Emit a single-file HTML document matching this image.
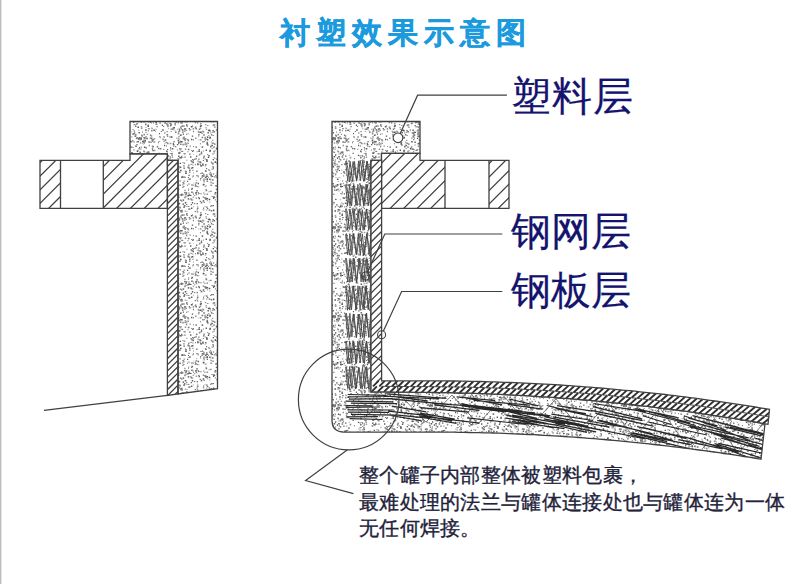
<!DOCTYPE html>
<html><head><meta charset="utf-8"><style>
html,body{margin:0;padding:0;background:#fff;width:800px;height:584px;overflow:hidden}
body{position:relative;font-family:"Liberation Sans",sans-serif}
.edge{position:absolute;left:0;top:0;width:1px;height:584px;background:#bdbdbd;box-shadow:1px 0 0 #e6e6e6}
.title{position:absolute;left:280px;top:14px;-webkit-text-stroke:0.35px #1b9ade;font-size:30px;font-weight:bold;color:#1b9ade;letter-spacing:6px;white-space:nowrap;line-height:38px}
.lab{position:absolute;left:511px;-webkit-text-stroke:0.2px #14146e;font-family:"Liberation Serif",serif;font-size:40px;color:#14146e;white-space:nowrap;line-height:48px}
.note{position:absolute;left:359px;top:462px;-webkit-text-stroke:0.35px #22223a;font-size:20px;color:#22223a;line-height:26.5px;letter-spacing:0.3px;white-space:nowrap}
</style></head><body>
<div class="edge"></div>
<svg width="800" height="584" viewBox="0 0 800 584" style="position:absolute;left:0;top:0;filter:blur(0.3px)"><defs><pattern id="stip" patternUnits="userSpaceOnUse" width="97" height="89"><path fill="#5a5a5a" d="M81.1 42.4h1.2v1.2h-1.2zM76.4 38h1.6v1.6h-1.6zM80.7 51h1.4v1.4h-1.4zM6.2 76h1.6v1.6h-1.6zM33.4 5.9h1.2v1.2h-1.2zM28.5 68.4h1.0v1.0h-1.0zM22.9 3.2h1.0v1.0h-1.0zM94.8 46.4h1.4v1.4h-1.4zM76.5 87.9h1.4v1.4h-1.4zM36.5 52.4h1.2v1.2h-1.2zM24.4 40.6h1.4v1.4h-1.4zM25.6 70.1h1.0v1.0h-1.0zM48.5 58.2h1.4v1.4h-1.4zM31.8 60.3h1.0v1.0h-1.0zM40.4 37.4h1.6v1.6h-1.6zM92.2 82.5h1.2v1.2h-1.2zM94.2 10.7h1.2v1.2h-1.2zM56 1.2h1.0v1.0h-1.0zM12.2 86.5h1.6v1.6h-1.6zM34.1 17.6h1.0v1.0h-1.0zM23.2 24.4h1.2v1.2h-1.2zM47.3 50.8h1.6v1.6h-1.6zM73.4 22.1h1.6v1.6h-1.6zM45.9 69.1h1.0v1.0h-1.0zM75.2 4.1h1.0v1.0h-1.0zM48.7 28.1h1.4v1.4h-1.4zM25.7 87.9h1.6v1.6h-1.6zM12.4 0.3h1.6v1.6h-1.6zM94 49.8h1.4v1.4h-1.4zM29 7.9h1.2v1.2h-1.2zM31.5 50.2h1.0v1.0h-1.0zM58.1 83.6h1.6v1.6h-1.6zM93.8 37h1.6v1.6h-1.6zM62.4 79.9h1.2v1.2h-1.2zM69.7 16.6h1.4v1.4h-1.4zM82.8 52h1.4v1.4h-1.4zM29.8 23.9h1.6v1.6h-1.6zM85.5 4.1h1.2v1.2h-1.2zM62.9 69.2h1.0v1.0h-1.0zM8.8 71.1h1.0v1.0h-1.0zM43.9 65.3h1.4v1.4h-1.4zM12.2 28.4h1.4v1.4h-1.4zM64.5 10h1.4v1.4h-1.4zM28.7 60.2h1.4v1.4h-1.4zM70.6 66.1h1.2v1.2h-1.2zM36 81.9h1.6v1.6h-1.6zM9.7 24.1h1.0v1.0h-1.0zM57.2 60.7h1.0v1.0h-1.0zM12.5 54.1h1.6v1.6h-1.6zM52.8 15.2h1.2v1.2h-1.2zM84.3 32.9h1.4v1.4h-1.4zM47 53.5h1.0v1.0h-1.0zM74.7 58.9h1.6v1.6h-1.6zM20.6 72.3h1.6v1.6h-1.6zM54.9 85.4h1.2v1.2h-1.2zM45.3 7.9h1.0v1.0h-1.0zM84.4 61.8h1.2v1.2h-1.2zM7.8 88.5h1.2v1.2h-1.2zM30.6 70h1.6v1.6h-1.6zM45.9 6.1h1.6v1.6h-1.6zM43.4 32.2h1.6v1.6h-1.6zM13.9 40.9h1.2v1.2h-1.2zM16.3 43.6h1.0v1.0h-1.0zM47.8 80.9h1.2v1.2h-1.2zM76.6 85.6h1.6v1.6h-1.6zM42.2 8h1.0v1.0h-1.0zM3.6 4.8h1.4v1.4h-1.4zM29.6 54h1.6v1.6h-1.6zM91.9 16.4h1.6v1.6h-1.6zM49.2 48.7h1.6v1.6h-1.6zM13.9 87.7h1.0v1.0h-1.0zM81 52.9h1.6v1.6h-1.6zM76.1 6h1.2v1.2h-1.2zM34 88.6h1.4v1.4h-1.4zM89.3 26h1.0v1.0h-1.0zM48.8 5.5h1.6v1.6h-1.6zM88.1 39.5h1.2v1.2h-1.2zM95 78h1.4v1.4h-1.4zM72.5 82.8h1.0v1.0h-1.0zM12.8 47.2h1.0v1.0h-1.0zM50.3 15.2h1.2v1.2h-1.2zM82.6 73.7h1.4v1.4h-1.4zM12.1 69.9h1.4v1.4h-1.4zM47.2 67h1.6v1.6h-1.6zM30.8 34.9h1.4v1.4h-1.4zM26 48.6h1.0v1.0h-1.0zM22.9 85.2h1.2v1.2h-1.2zM38.6 0.8h1.6v1.6h-1.6zM17.5 55.8h1.4v1.4h-1.4zM62.9 11.6h1.2v1.2h-1.2zM75.5 38.6h1.2v1.2h-1.2zM12.3 31.4h1.0v1.0h-1.0zM23.9 31.5h1.6v1.6h-1.6zM14.5 40.6h1.6v1.6h-1.6zM94.9 36.4h1.2v1.2h-1.2zM96.2 61h1.4v1.4h-1.4zM45 51.7h1.4v1.4h-1.4zM51.3 39.3h1.0v1.0h-1.0zM40.5 48.9h1.4v1.4h-1.4zM22.9 34h1.2v1.2h-1.2zM35.6 19.1h1.6v1.6h-1.6zM41.8 77.2h1.4v1.4h-1.4zM6.2 0h1.0v1.0h-1.0zM31.1 25.2h1.0v1.0h-1.0zM32.9 52h1.6v1.6h-1.6zM80.7 16.3h1.4v1.4h-1.4zM9.4 87.1h1.0v1.0h-1.0zM42.8 67.1h1.4v1.4h-1.4zM40.6 51.9h1.4v1.4h-1.4zM18.8 77.6h1.2v1.2h-1.2zM38.5 18.9h1.2v1.2h-1.2zM31.7 22h1.0v1.0h-1.0zM10.8 19.6h1.6v1.6h-1.6zM54.8 21.8h1.2v1.2h-1.2zM78.6 32.5h1.2v1.2h-1.2zM17.2 26.9h1.4v1.4h-1.4zM39.4 55.1h1.2v1.2h-1.2zM81.1 66.6h1.4v1.4h-1.4zM47.1 48.2h1.6v1.6h-1.6zM88.1 49.2h1.4v1.4h-1.4zM70.2 54h1.2v1.2h-1.2zM26.6 42.7h1.4v1.4h-1.4zM33.3 9.5h1.2v1.2h-1.2zM28.6 24.2h1.6v1.6h-1.6zM4.5 15.1h1.0v1.0h-1.0zM54 66.4h1.4v1.4h-1.4zM13.3 55.6h1.2v1.2h-1.2zM66.2 37h1.0v1.0h-1.0zM32.6 64.6h1.4v1.4h-1.4zM20.8 14h1.6v1.6h-1.6zM64.6 21.7h1.0v1.0h-1.0zM39.4 52.4h1.2v1.2h-1.2zM50.4 27.5h1.2v1.2h-1.2zM35.5 88.9h1.0v1.0h-1.0zM89.7 36.9h1.0v1.0h-1.0zM45.9 0.4h1.6v1.6h-1.6zM60.7 7.9h1.0v1.0h-1.0zM93.5 17h1.0v1.0h-1.0zM82.9 45.5h1.6v1.6h-1.6zM23.2 52h1.6v1.6h-1.6zM38 46.8h1.2v1.2h-1.2zM19.4 35.2h1.2v1.2h-1.2zM18.9 79.3h1.0v1.0h-1.0zM38.4 45.6h1.0v1.0h-1.0zM83 80.7h1.6v1.6h-1.6zM19.3 18.4h1.6v1.6h-1.6zM82.9 77.6h1.4v1.4h-1.4zM71.7 8.2h1.4v1.4h-1.4zM80.8 18.5h1.6v1.6h-1.6zM49.2 26.5h1.2v1.2h-1.2zM33.4 25.9h1.4v1.4h-1.4zM89.5 27.7h1.0v1.0h-1.0zM58.3 19.9h1.0v1.0h-1.0zM48.1 40.2h1.6v1.6h-1.6zM42.1 58h1.0v1.0h-1.0zM86.4 8.1h1.0v1.0h-1.0zM80.5 25h1.4v1.4h-1.4zM77.5 4.4h1.6v1.6h-1.6zM50.4 36.5h1.6v1.6h-1.6zM87.2 39h1.6v1.6h-1.6zM29.4 40.5h1.6v1.6h-1.6zM18.6 69.9h1.4v1.4h-1.4zM12.9 50h1.4v1.4h-1.4zM18.6 46h1.0v1.0h-1.0zM85.3 6.6h1.0v1.0h-1.0zM3.7 14.1h1.0v1.0h-1.0zM68.9 56.5h1.0v1.0h-1.0zM72.9 20.4h1.4v1.4h-1.4zM68.1 5.2h1.6v1.6h-1.6zM40.7 32.5h1.0v1.0h-1.0zM4.3 61.4h1.6v1.6h-1.6zM67.3 25.6h1.2v1.2h-1.2zM84.6 87.2h1.6v1.6h-1.6zM73.6 24.8h1.2v1.2h-1.2zM83.2 68h1.6v1.6h-1.6zM18.8 31.6h1.6v1.6h-1.6zM74.8 10.3h1.0v1.0h-1.0zM65.9 81.2h1.6v1.6h-1.6zM96.2 86.5h1.0v1.0h-1.0zM19 20h1.0v1.0h-1.0zM34.4 47.5h1.0v1.0h-1.0zM38.3 44.8h1.0v1.0h-1.0zM79.5 18.4h1.6v1.6h-1.6zM70 59.9h1.2v1.2h-1.2zM43.1 7.8h1.4v1.4h-1.4zM85.8 44.5h1.2v1.2h-1.2zM10.7 69.6h1.0v1.0h-1.0zM8.7 22.2h1.6v1.6h-1.6zM11.7 86.4h1.2v1.2h-1.2zM64.1 78.5h1.4v1.4h-1.4zM12.2 71.2h1.6v1.6h-1.6zM40.6 66.3h1.0v1.0h-1.0zM90 2.7h1.2v1.2h-1.2zM88.7 40.9h1.0v1.0h-1.0zM77.7 32h1.0v1.0h-1.0zM91.3 28.1h1.0v1.0h-1.0zM49.4 8h1.4v1.4h-1.4zM78.8 12.8h1.0v1.0h-1.0zM79.9 54.9h1.4v1.4h-1.4zM81.3 63.3h1.6v1.6h-1.6zM84.1 52h1.6v1.6h-1.6zM78 76.7h1.6v1.6h-1.6zM81.8 24.8h1.4v1.4h-1.4zM56.4 6.2h1.6v1.6h-1.6zM73.5 8.5h1.0v1.0h-1.0zM43.3 49.1h1.6v1.6h-1.6zM8.2 74.5h1.4v1.4h-1.4zM9.6 5.9h1.0v1.0h-1.0zM95.9 70.5h1.2v1.2h-1.2zM64.7 15.4h1.0v1.0h-1.0zM69 61.6h1.4v1.4h-1.4zM5.9 54.3h1.0v1.0h-1.0zM20.3 35.5h1.0v1.0h-1.0zM58.4 75.8h1.6v1.6h-1.6zM63.8 22.7h1.4v1.4h-1.4zM21.5 7h1.2v1.2h-1.2zM39.7 61.3h1.6v1.6h-1.6zM81.8 41.2h1.4v1.4h-1.4zM93 67.3h1.4v1.4h-1.4zM57.6 2.6h1.4v1.4h-1.4zM88.1 83.7h1.4v1.4h-1.4zM85.1 42.4h1.4v1.4h-1.4zM24.8 73.5h1.0v1.0h-1.0zM51.4 52.3h1.4v1.4h-1.4zM56.3 40.4h1.6v1.6h-1.6zM58.4 28.5h1.4v1.4h-1.4zM61.9 44.1h1.2v1.2h-1.2zM48.8 70.2h1.2v1.2h-1.2zM36.7 41.6h1.2v1.2h-1.2zM47.2 79.3h1.0v1.0h-1.0zM72.2 79.7h1.6v1.6h-1.6zM80.4 84.1h1.0v1.0h-1.0zM26.4 52.5h1.4v1.4h-1.4zM24.2 64.5h1.6v1.6h-1.6zM80 7.6h1.4v1.4h-1.4zM58.2 32.4h1.6v1.6h-1.6zM72.2 72.2h1.6v1.6h-1.6zM73.3 34.3h1.2v1.2h-1.2zM36.1 33h1.0v1.0h-1.0zM33.2 9.6h1.6v1.6h-1.6zM41.1 86.6h1.6v1.6h-1.6zM67.8 81.1h1.0v1.0h-1.0zM42.7 48.6h1.0v1.0h-1.0zM80.2 84.9h1.0v1.0h-1.0zM50.9 63.2h1.2v1.2h-1.2zM25.6 44.7h1.0v1.0h-1.0zM58.9 34.6h1.4v1.4h-1.4zM68.6 73.6h1.0v1.0h-1.0zM32.4 51.2h1.0v1.0h-1.0zM27.7 83h1.4v1.4h-1.4zM26.2 67.2h1.2v1.2h-1.2zM15.4 47.8h1.6v1.6h-1.6zM42.5 24.4h1.2v1.2h-1.2zM35.8 11.4h1.4v1.4h-1.4zM13.5 43h1.4v1.4h-1.4zM8.7 5.8h1.6v1.6h-1.6zM93.2 40.2h1.0v1.0h-1.0zM64.8 35.5h1.0v1.0h-1.0zM22.8 88.1h1.0v1.0h-1.0zM67.4 76.3h1.2v1.2h-1.2zM92.1 82.4h1.2v1.2h-1.2zM63.7 31.3h1.4v1.4h-1.4zM24.9 81.5h1.6v1.6h-1.6zM10.9 87.8h1.2v1.2h-1.2zM2.7 25h1.2v1.2h-1.2zM74.5 76.6h1.0v1.0h-1.0zM16.6 85.8h1.4v1.4h-1.4zM13.8 67.7h1.4v1.4h-1.4zM71 9.6h1.2v1.2h-1.2zM93.9 78.6h1.2v1.2h-1.2zM9.3 14.6h1.0v1.0h-1.0zM31 8.7h1.2v1.2h-1.2zM14.7 20.7h1.6v1.6h-1.6zM67.4 33.3h1.4v1.4h-1.4zM23.6 17.4h1.0v1.0h-1.0zM76.6 75.1h1.2v1.2h-1.2zM24.9 1h1.0v1.0h-1.0zM29.9 37.4h1.4v1.4h-1.4zM89 35.2h1.6v1.6h-1.6zM61.8 87.5h1.0v1.0h-1.0zM85.9 48.3h1.6v1.6h-1.6zM35.8 44.2h1.6v1.6h-1.6zM84.2 66.7h1.2v1.2h-1.2zM11.6 60.6h1.4v1.4h-1.4zM27.5 60.7h1.2v1.2h-1.2zM64.6 29.5h1.0v1.0h-1.0zM19.6 18.7h1.6v1.6h-1.6zM95.2 21.6h1.0v1.0h-1.0zM5.6 72.5h1.4v1.4h-1.4zM39.7 10.4h1.2v1.2h-1.2zM70.6 35.4h1.2v1.2h-1.2zM80.5 49.3h1.0v1.0h-1.0zM11.2 81.6h1.4v1.4h-1.4zM6.2 50.3h1.2v1.2h-1.2zM40.9 83h1.0v1.0h-1.0zM49.1 70.3h1.2v1.2h-1.2zM71.5 76.6h1.4v1.4h-1.4zM45.2 82.2h1.4v1.4h-1.4zM85.5 73.2h1.0v1.0h-1.0zM83.5 15.9h1.4v1.4h-1.4zM29.3 2.2h1.0v1.0h-1.0zM82.3 68.1h1.4v1.4h-1.4zM96.8 4.2h1.6v1.6h-1.6zM41.7 48.1h1.0v1.0h-1.0zM84.2 87.6h1.4v1.4h-1.4zM65.2 26h1.2v1.2h-1.2zM23.8 15.8h1.0v1.0h-1.0zM1.1 14.2h1.6v1.6h-1.6zM53.8 24.5h1.6v1.6h-1.6zM46.9 57.6h1.4v1.4h-1.4zM21.8 58.8h1.6v1.6h-1.6zM51.4 39h1.2v1.2h-1.2zM51.6 19.2h1.6v1.6h-1.6zM87.2 14h1.2v1.2h-1.2zM72.7 16.3h1.0v1.0h-1.0zM30.9 33.4h1.4v1.4h-1.4zM37.6 7.6h1.4v1.4h-1.4zM46.6 31h1.4v1.4h-1.4zM12.5 20h1.6v1.6h-1.6zM44.1 20.7h1.4v1.4h-1.4zM27.9 15.6h1.0v1.0h-1.0zM44.1 70.6h1.0v1.0h-1.0zM75.7 7.8h1.4v1.4h-1.4zM70 35.7h1.0v1.0h-1.0zM14.6 31.6h1.0v1.0h-1.0zM60.3 10.7h1.4v1.4h-1.4zM67 56h1.2v1.2h-1.2zM41.5 43h1.4v1.4h-1.4zM72.4 9.4h1.4v1.4h-1.4zM63 8.2h1.0v1.0h-1.0zM28.9 48.9h1.2v1.2h-1.2zM94 29.6h1.4v1.4h-1.4zM14.3 66h1.4v1.4h-1.4zM93.7 26.1h1.2v1.2h-1.2zM3.1 74.7h1.6v1.6h-1.6zM90.1 6.8h1.0v1.0h-1.0zM13.1 29.9h1.2v1.2h-1.2zM53.1 32.9h1.2v1.2h-1.2zM51.9 64.8h1.0v1.0h-1.0zM26.2 76.9h1.4v1.4h-1.4zM61.7 18.8h1.0v1.0h-1.0zM95.7 18.7h1.0v1.0h-1.0zM4.8 20h1.2v1.2h-1.2zM59.7 84.7h1.6v1.6h-1.6zM75.8 54.9h1.6v1.6h-1.6zM41.4 76.8h1.4v1.4h-1.4zM25.8 70.9h1.0v1.0h-1.0zM84.4 36.4h1.6v1.6h-1.6zM6.5 35.9h1.4v1.4h-1.4zM15.4 60.7h1.6v1.6h-1.6zM64.9 35.7h1.2v1.2h-1.2zM55.1 10.4h1.2v1.2h-1.2zM59.1 5.5h1.2v1.2h-1.2zM81.4 47.2h1.2v1.2h-1.2zM84.3 31.7h1.2v1.2h-1.2zM44.6 11.4h1.6v1.6h-1.6zM67.2 43.4h1.0v1.0h-1.0zM65.2 40.7h1.0v1.0h-1.0zM73 67.4h1.0v1.0h-1.0zM88.3 82h1.4v1.4h-1.4zM76.2 31h1.0v1.0h-1.0zM49 7.4h1.6v1.6h-1.6zM96.3 49.9h1.6v1.6h-1.6zM31 20.5h1.4v1.4h-1.4zM91.7 39h1.2v1.2h-1.2zM31.8 25.7h1.2v1.2h-1.2zM26.6 36h1.2v1.2h-1.2zM91.3 30.5h1.2v1.2h-1.2zM12.2 49.5h1.2v1.2h-1.2zM83.2 54.7h1.2v1.2h-1.2zM0.9 75.2h1.0v1.0h-1.0zM80 82.2h1.4v1.4h-1.4zM60.4 19.6h1.0v1.0h-1.0zM43.2 73.6h1.4v1.4h-1.4zM55.4 60.9h1.4v1.4h-1.4zM89.1 44.7h1.0v1.0h-1.0zM75.7 15.6h1.0v1.0h-1.0zM53.2 74.5h1.4v1.4h-1.4zM90.9 88.1h1.0v1.0h-1.0zM63.8 42.1h1.0v1.0h-1.0zM34.2 63h1.6v1.6h-1.6zM29.4 43.2h1.6v1.6h-1.6zM90.3 17h1.6v1.6h-1.6zM58.1 21h1.4v1.4h-1.4zM78.6 82.1h1.2v1.2h-1.2zM86.5 77.5h1.0v1.0h-1.0zM37.2 43.2h1.0v1.0h-1.0zM12.9 47.9h1.2v1.2h-1.2zM91.4 5.4h1.2v1.2h-1.2zM82.5 2.3h1.2v1.2h-1.2zM9.1 84.5h1.0v1.0h-1.0zM6.9 62.6h1.2v1.2h-1.2zM36.3 28.1h1.2v1.2h-1.2zM85.6 25.6h1.4v1.4h-1.4zM27.9 32.6h1.4v1.4h-1.4zM24.8 5.9h1.4v1.4h-1.4zM81.4 31.2h1.4v1.4h-1.4zM84.9 40.2h1.4v1.4h-1.4zM87.8 23.9h1.6v1.6h-1.6zM91.4 85.8h1.2v1.2h-1.2zM29.5 21.5h1.6v1.6h-1.6zM23.5 64.5h1.4v1.4h-1.4zM4.2 46.4h1.0v1.0h-1.0zM62.5 33.5h1.2v1.2h-1.2zM77.6 2.1h1.0v1.0h-1.0zM9.5 2.3h1.2v1.2h-1.2zM87.1 88h1.4v1.4h-1.4zM94.5 9.7h1.4v1.4h-1.4zM88.6 14.5h1.4v1.4h-1.4zM24.6 43.7h1.6v1.6h-1.6zM43.2 9.1h1.2v1.2h-1.2zM25.1 50h1.2v1.2h-1.2zM83.3 32h1.4v1.4h-1.4zM54.7 74h1.4v1.4h-1.4zM38.6 56.7h1.2v1.2h-1.2zM27.4 77h1.0v1.0h-1.0zM37.8 74.6h1.4v1.4h-1.4zM5.8 36.5h1.6v1.6h-1.6zM94.8 24.1h1.4v1.4h-1.4zM54.9 14.5h1.0v1.0h-1.0zM5.5 42.4h1.6v1.6h-1.6zM72.9 58.3h1.2v1.2h-1.2zM50.9 7.9h1.2v1.2h-1.2zM15.6 41.2h1.2v1.2h-1.2zM95.7 39.2h1.2v1.2h-1.2zM61 53.3h1.0v1.0h-1.0zM23.2 68.5h1.6v1.6h-1.6zM22.4 22.9h1.4v1.4h-1.4zM42 49h1.4v1.4h-1.4zM66.8 65.8h1.2v1.2h-1.2zM35.2 65.2h1.4v1.4h-1.4zM17.9 86.8h1.2v1.2h-1.2zM36.9 23.7h1.0v1.0h-1.0zM59.3 13.4h1.2v1.2h-1.2z"/><path fill="#767676" d="M46 51.7h1.0v1.0h-1.0zM4.2 69.4h1.4v1.4h-1.4zM85.3 8.7h1.2v1.2h-1.2zM34 52.1h1.2v1.2h-1.2zM10.5 47.7h1.2v1.2h-1.2zM28.3 23.4h1.0v1.0h-1.0zM30.4 85.3h1.6v1.6h-1.6zM94.4 72.2h1.4v1.4h-1.4zM61.5 63.7h1.4v1.4h-1.4zM47.5 52.5h1.0v1.0h-1.0zM94.2 60.9h1.2v1.2h-1.2zM58.3 84.5h1.2v1.2h-1.2zM78.5 85.5h1.0v1.0h-1.0zM72 19.4h1.6v1.6h-1.6zM21.8 10.8h1.2v1.2h-1.2zM78.3 74.6h1.2v1.2h-1.2zM89.3 13.9h1.0v1.0h-1.0zM3.4 71.5h1.2v1.2h-1.2zM52.1 4.7h1.0v1.0h-1.0zM34.1 57.6h1.4v1.4h-1.4zM30.6 84.6h1.6v1.6h-1.6zM57.2 71.5h1.2v1.2h-1.2zM12.6 2.5h1.4v1.4h-1.4zM69.5 42.1h1.2v1.2h-1.2zM85.4 15.9h1.0v1.0h-1.0zM67.9 83.9h1.4v1.4h-1.4zM16.7 32.1h1.4v1.4h-1.4zM58.1 41.7h1.0v1.0h-1.0zM82.8 21.5h1.2v1.2h-1.2zM13.3 55.3h1.0v1.0h-1.0zM16.5 4h1.2v1.2h-1.2zM25.6 81.3h1.0v1.0h-1.0zM2.9 29.5h1.6v1.6h-1.6zM7.6 57.3h1.6v1.6h-1.6zM51.2 62.4h1.4v1.4h-1.4zM6.7 63.7h1.6v1.6h-1.6zM74.6 31.5h1.4v1.4h-1.4zM43.5 72h1.0v1.0h-1.0zM48.3 88.6h1.2v1.2h-1.2zM81.7 39.6h1.6v1.6h-1.6zM34.9 20.8h1.0v1.0h-1.0zM52.3 82.8h1.4v1.4h-1.4zM83.6 38.9h1.2v1.2h-1.2zM82 62.8h1.6v1.6h-1.6zM63 27.1h1.6v1.6h-1.6zM73.4 35.7h1.2v1.2h-1.2zM87.2 64.1h1.4v1.4h-1.4zM94.1 71.6h1.4v1.4h-1.4zM69.3 21.3h1.0v1.0h-1.0zM9.1 42.2h1.2v1.2h-1.2zM5 64.8h1.4v1.4h-1.4zM87.3 67.4h1.4v1.4h-1.4zM89 83.7h1.0v1.0h-1.0zM34.8 16.4h1.6v1.6h-1.6zM22.3 69.4h1.6v1.6h-1.6zM26.1 15.1h1.6v1.6h-1.6zM4.1 15.3h1.0v1.0h-1.0zM8.9 61.6h1.0v1.0h-1.0zM84.6 40h1.4v1.4h-1.4zM0.2 17.3h1.0v1.0h-1.0zM75.8 53.8h1.2v1.2h-1.2zM2.3 86h1.2v1.2h-1.2zM59.7 57.1h1.4v1.4h-1.4zM58.5 39.7h1.0v1.0h-1.0zM62.3 30.4h1.2v1.2h-1.2zM73.1 82.2h1.4v1.4h-1.4zM41.8 7.5h1.2v1.2h-1.2zM59.4 82.9h1.6v1.6h-1.6zM92 80.4h1.6v1.6h-1.6zM86.6 2.5h1.2v1.2h-1.2zM18.9 18.5h1.6v1.6h-1.6zM75.9 12.7h1.6v1.6h-1.6zM47.3 72.1h1.4v1.4h-1.4zM96.9 19.8h1.4v1.4h-1.4zM2.9 33.2h1.4v1.4h-1.4zM92.2 0.2h1.6v1.6h-1.6zM95 69.9h1.0v1.0h-1.0zM17.9 1.2h1.6v1.6h-1.6zM81 53.7h1.0v1.0h-1.0zM30.2 22h1.6v1.6h-1.6zM70.1 30.2h1.0v1.0h-1.0zM72.8 30h1.2v1.2h-1.2zM5.9 72.7h1.6v1.6h-1.6zM50.6 67.2h1.6v1.6h-1.6zM66.3 88.3h1.0v1.0h-1.0zM75.1 39.5h1.4v1.4h-1.4zM30.5 46.5h1.6v1.6h-1.6zM30.7 53.2h1.0v1.0h-1.0zM30.2 30.8h1.6v1.6h-1.6zM30.7 24.1h1.0v1.0h-1.0zM12.8 22.3h1.0v1.0h-1.0zM6.7 23.8h1.6v1.6h-1.6zM50.8 13.5h1.2v1.2h-1.2zM27.2 11.7h1.2v1.2h-1.2zM0.7 33h1.2v1.2h-1.2zM39.5 47.9h1.4v1.4h-1.4zM73.4 26.3h1.2v1.2h-1.2zM93.5 74.8h1.2v1.2h-1.2zM55.6 14.1h1.0v1.0h-1.0zM81 25.5h1.4v1.4h-1.4zM96.6 64.9h1.2v1.2h-1.2zM42.2 23.8h1.2v1.2h-1.2zM29.2 45h1.6v1.6h-1.6zM48 28.8h1.0v1.0h-1.0zM35.3 64.2h1.2v1.2h-1.2zM18.4 73.3h1.0v1.0h-1.0zM2.7 31.3h1.0v1.0h-1.0zM61 58.7h1.6v1.6h-1.6zM93.2 20.2h1.4v1.4h-1.4zM50.3 28h1.2v1.2h-1.2zM38.9 34.6h1.2v1.2h-1.2zM7.6 47.7h1.6v1.6h-1.6zM48 34.6h1.6v1.6h-1.6zM31.2 31.1h1.2v1.2h-1.2zM46.3 48h1.6v1.6h-1.6zM86.5 78.7h1.4v1.4h-1.4zM41 49.7h1.4v1.4h-1.4zM46.4 50.5h1.2v1.2h-1.2zM52.1 82.2h1.4v1.4h-1.4zM91.3 10.4h1.0v1.0h-1.0zM21.9 40.7h1.0v1.0h-1.0zM47.6 88.6h1.2v1.2h-1.2zM54.9 51.1h1.6v1.6h-1.6zM11.4 19.4h1.0v1.0h-1.0zM32.7 72.5h1.2v1.2h-1.2zM44.2 88.5h1.6v1.6h-1.6zM17.1 73.6h1.0v1.0h-1.0zM21.8 40.3h1.0v1.0h-1.0zM51.5 25.3h1.2v1.2h-1.2zM4.6 60.1h1.4v1.4h-1.4zM47.7 69.3h1.2v1.2h-1.2zM35.1 44.5h1.0v1.0h-1.0zM64.7 29.6h1.6v1.6h-1.6zM45.1 53.5h1.0v1.0h-1.0zM29.6 65.7h1.4v1.4h-1.4zM25.4 42.6h1.6v1.6h-1.6zM56 33.6h1.0v1.0h-1.0zM40.1 75.2h1.6v1.6h-1.6zM15.3 61.5h1.6v1.6h-1.6zM30.6 39.4h1.0v1.0h-1.0zM53.3 52.6h1.4v1.4h-1.4zM53.6 19.1h1.0v1.0h-1.0zM73 73h1.0v1.0h-1.0zM87.8 81.4h1.0v1.0h-1.0zM41.4 5h1.6v1.6h-1.6zM56.1 73.7h1.2v1.2h-1.2zM55.8 2.2h1.4v1.4h-1.4zM75.6 54.1h1.0v1.0h-1.0zM86.5 49.5h1.0v1.0h-1.0zM42.9 62.9h1.2v1.2h-1.2zM0.1 69.7h1.4v1.4h-1.4zM27 75.4h1.2v1.2h-1.2zM84 15.6h1.4v1.4h-1.4zM7.6 48.1h1.2v1.2h-1.2zM85.1 87.2h1.0v1.0h-1.0zM16 57h1.6v1.6h-1.6zM12 79.1h1.2v1.2h-1.2zM68.4 66.2h1.4v1.4h-1.4zM42.2 62.4h1.4v1.4h-1.4zM50.5 62.2h1.4v1.4h-1.4zM32.6 68.2h1.2v1.2h-1.2zM82.3 6.5h1.6v1.6h-1.6zM96.2 83.4h1.2v1.2h-1.2zM54.8 27.7h1.6v1.6h-1.6zM23.3 18h1.0v1.0h-1.0zM82.6 51.7h1.2v1.2h-1.2zM55.4 49.8h1.4v1.4h-1.4zM90.4 62.2h1.0v1.0h-1.0zM66.6 75.2h1.0v1.0h-1.0zM91.4 16.3h1.4v1.4h-1.4zM22.6 84.6h1.6v1.6h-1.6zM72.9 36h1.4v1.4h-1.4zM73.7 34.9h1.2v1.2h-1.2zM63.3 18.8h1.4v1.4h-1.4zM34.6 66.1h1.2v1.2h-1.2zM38 36.6h1.4v1.4h-1.4zM61.7 52.1h1.0v1.0h-1.0zM94.3 6.3h1.4v1.4h-1.4zM22.9 57.3h1.4v1.4h-1.4zM16.7 55.8h1.0v1.0h-1.0zM20.5 69.1h1.0v1.0h-1.0zM31.4 54h1.4v1.4h-1.4zM68.9 88h1.0v1.0h-1.0zM69.3 34.2h1.4v1.4h-1.4zM72.5 33.7h1.6v1.6h-1.6zM23.9 19.7h1.6v1.6h-1.6zM7.7 86.1h1.6v1.6h-1.6zM68.6 26.4h1.2v1.2h-1.2zM14.9 0.4h1.6v1.6h-1.6zM19.8 63.5h1.0v1.0h-1.0zM91.4 0.7h1.2v1.2h-1.2zM13.2 35.9h1.2v1.2h-1.2zM24 1.7h1.4v1.4h-1.4zM83.6 21.7h1.2v1.2h-1.2zM16.6 84.5h1.4v1.4h-1.4zM54.1 80h1.2v1.2h-1.2zM87 50.2h1.4v1.4h-1.4zM76.5 82.8h1.0v1.0h-1.0zM90.7 20.1h1.6v1.6h-1.6zM17.7 59.1h1.0v1.0h-1.0zM43 11.5h1.2v1.2h-1.2zM30.1 28.6h1.0v1.0h-1.0zM22.6 87.2h1.0v1.0h-1.0zM1.6 39.1h1.4v1.4h-1.4zM26.5 55.5h1.0v1.0h-1.0zM23.3 33.5h1.4v1.4h-1.4zM59 6.7h1.0v1.0h-1.0zM24.4 47.4h1.4v1.4h-1.4zM73.9 47h1.4v1.4h-1.4zM27.1 4.7h1.6v1.6h-1.6zM9.6 52.1h1.2v1.2h-1.2zM50.6 35.5h1.4v1.4h-1.4zM43.7 28.2h1.4v1.4h-1.4zM91 11.7h1.0v1.0h-1.0zM18.3 40.9h1.6v1.6h-1.6zM55.8 57h1.2v1.2h-1.2zM44.5 7.3h1.0v1.0h-1.0zM65.2 40.2h1.6v1.6h-1.6zM8.3 75.5h1.4v1.4h-1.4zM74.7 0.1h1.2v1.2h-1.2zM69 67.9h1.6v1.6h-1.6zM66 49.8h1.0v1.0h-1.0zM8.7 86.1h1.4v1.4h-1.4zM15.1 31.6h1.2v1.2h-1.2zM26 28.7h1.4v1.4h-1.4zM36.4 23h1.6v1.6h-1.6zM11 74.9h1.6v1.6h-1.6zM85.6 21.3h1.6v1.6h-1.6zM89 57.1h1.2v1.2h-1.2zM45.7 77.7h1.0v1.0h-1.0zM96.2 57.1h1.0v1.0h-1.0zM16.9 45.1h1.4v1.4h-1.4zM2 66.6h1.4v1.4h-1.4zM7.6 88.8h1.4v1.4h-1.4zM16.4 6.6h1.4v1.4h-1.4zM43.7 48.3h1.4v1.4h-1.4zM49.7 48.9h1.0v1.0h-1.0zM16.2 12.7h1.4v1.4h-1.4zM7.8 83.6h1.2v1.2h-1.2zM23.7 59.4h1.6v1.6h-1.6zM69.5 44.9h1.6v1.6h-1.6zM56.7 16.5h1.6v1.6h-1.6zM31.9 26.1h1.0v1.0h-1.0zM73.4 83h1.6v1.6h-1.6zM94.1 13.5h1.4v1.4h-1.4zM25.3 60h1.2v1.2h-1.2zM35.5 80.7h1.0v1.0h-1.0zM45.7 76.7h1.4v1.4h-1.4zM73.4 86h1.4v1.4h-1.4zM54.3 50.5h1.0v1.0h-1.0zM95.4 72.6h1.6v1.6h-1.6zM47.2 76.8h1.6v1.6h-1.6zM3.1 74h1.4v1.4h-1.4zM42.3 48.5h1.2v1.2h-1.2zM90.4 77.6h1.6v1.6h-1.6zM70 84.9h1.0v1.0h-1.0zM64.1 21.4h1.0v1.0h-1.0zM74.1 47.6h1.4v1.4h-1.4zM59.9 10.5h1.6v1.6h-1.6zM84 16.7h1.4v1.4h-1.4zM22.9 25.6h1.6v1.6h-1.6zM85.2 61.9h1.0v1.0h-1.0zM45.8 52.2h1.6v1.6h-1.6zM7 76.4h1.2v1.2h-1.2zM25.7 45.5h1.6v1.6h-1.6zM70.4 37h1.2v1.2h-1.2zM55.5 18.8h1.4v1.4h-1.4zM0.7 37.8h1.6v1.6h-1.6zM89.4 70.7h1.0v1.0h-1.0zM35.5 39.9h1.0v1.0h-1.0zM75.7 24.8h1.4v1.4h-1.4zM41.9 7.6h1.2v1.2h-1.2zM24.7 70h1.2v1.2h-1.2zM86.3 28.3h1.6v1.6h-1.6zM78.1 57h1.2v1.2h-1.2zM81.9 28.6h1.6v1.6h-1.6zM8.7 18.4h1.4v1.4h-1.4zM49.1 64.2h1.2v1.2h-1.2zM44.6 46.3h1.4v1.4h-1.4zM35.9 24.2h1.2v1.2h-1.2zM68 86.2h1.2v1.2h-1.2zM27.6 63.9h1.6v1.6h-1.6zM89.7 53.6h1.0v1.0h-1.0zM57.6 17.6h1.2v1.2h-1.2zM91.3 14.6h1.2v1.2h-1.2zM41.4 68.8h1.2v1.2h-1.2zM3.6 86.6h1.2v1.2h-1.2zM11.9 87.7h1.0v1.0h-1.0zM7.6 42.1h1.0v1.0h-1.0zM33.4 18.7h1.4v1.4h-1.4zM20.2 37.4h1.4v1.4h-1.4zM60.4 9.5h1.0v1.0h-1.0zM83 37.9h1.0v1.0h-1.0zM49.4 62.7h1.6v1.6h-1.6zM27.5 37.2h1.2v1.2h-1.2zM47.4 12.6h1.0v1.0h-1.0zM47.3 88.7h1.4v1.4h-1.4zM22.5 82.7h1.0v1.0h-1.0zM48.7 11.2h1.0v1.0h-1.0zM44.7 6.4h1.0v1.0h-1.0zM18.2 74.3h1.4v1.4h-1.4zM31.5 72.4h1.0v1.0h-1.0zM36.6 44h1.0v1.0h-1.0zM38.8 48.7h1.2v1.2h-1.2zM79.9 60.5h1.0v1.0h-1.0zM2.2 81.6h1.4v1.4h-1.4zM54.9 60.1h1.2v1.2h-1.2zM70.5 81.4h1.4v1.4h-1.4zM59.4 36.9h1.4v1.4h-1.4zM0.1 25h1.2v1.2h-1.2zM64.9 87.2h1.6v1.6h-1.6zM11.3 20.5h1.4v1.4h-1.4zM75.6 21h1.2v1.2h-1.2zM53 19.7h1.4v1.4h-1.4zM75 24.8h1.4v1.4h-1.4zM9.6 3.4h1.0v1.0h-1.0zM86.9 26.9h1.6v1.6h-1.6zM24.7 46.2h1.6v1.6h-1.6zM91 53.7h1.0v1.0h-1.0zM6.3 83.9h1.2v1.2h-1.2zM32.9 21.4h1.0v1.0h-1.0zM56.9 23.3h1.2v1.2h-1.2zM19.5 42h1.6v1.6h-1.6zM67.4 72.5h1.0v1.0h-1.0zM1 7.1h1.6v1.6h-1.6zM18.2 77.2h1.0v1.0h-1.0zM55 56.8h1.6v1.6h-1.6zM26 82.6h1.0v1.0h-1.0zM73 60.4h1.0v1.0h-1.0zM45.4 74.8h1.2v1.2h-1.2zM95.3 75.4h1.0v1.0h-1.0zM32 77h1.4v1.4h-1.4zM62.9 76.5h1.0v1.0h-1.0zM76.4 51.9h1.4v1.4h-1.4zM19.7 87.3h1.2v1.2h-1.2zM8.9 1.5h1.0v1.0h-1.0zM86.2 36.3h1.4v1.4h-1.4zM29.3 64.3h1.4v1.4h-1.4zM5.7 22.7h1.2v1.2h-1.2zM90.6 44.3h1.0v1.0h-1.0zM60 2.3h1.0v1.0h-1.0zM45 42.5h1.0v1.0h-1.0zM82.1 82.4h1.6v1.6h-1.6zM37.7 30.2h1.2v1.2h-1.2zM36.8 72.7h1.4v1.4h-1.4zM74.9 79.3h1.4v1.4h-1.4zM78.2 11.5h1.6v1.6h-1.6zM37.4 1.3h1.0v1.0h-1.0zM87.1 41.4h1.4v1.4h-1.4zM80.7 33.3h1.2v1.2h-1.2zM39 1.2h1.6v1.6h-1.6zM52.9 45.5h1.4v1.4h-1.4zM30.7 50.3h1.4v1.4h-1.4zM95 61.7h1.2v1.2h-1.2zM53.8 48.6h1.6v1.6h-1.6zM78.1 42.5h1.4v1.4h-1.4zM45.8 80h1.4v1.4h-1.4zM77.3 26.5h1.0v1.0h-1.0zM29.5 71.3h1.2v1.2h-1.2zM4.1 19h1.4v1.4h-1.4zM52.3 32.4h1.0v1.0h-1.0zM9.2 45.2h1.6v1.6h-1.6zM63.6 8.2h1.0v1.0h-1.0zM12.5 52.7h1.6v1.6h-1.6zM13.2 65h1.0v1.0h-1.0zM38 56.4h1.4v1.4h-1.4zM57.8 14.2h1.2v1.2h-1.2zM63 59.1h1.4v1.4h-1.4zM27.4 25.8h1.2v1.2h-1.2zM57.1 52.2h1.2v1.2h-1.2zM86.9 40.1h1.0v1.0h-1.0zM95.9 41.7h1.6v1.6h-1.6zM2.6 62.3h1.0v1.0h-1.0zM80.8 9.9h1.0v1.0h-1.0zM29.3 47h1.6v1.6h-1.6zM65.2 49.8h1.0v1.0h-1.0zM16.8 72.6h1.0v1.0h-1.0zM50.3 75h1.2v1.2h-1.2zM72.6 10.2h1.2v1.2h-1.2zM39.7 34h1.2v1.2h-1.2zM82.2 59h1.4v1.4h-1.4zM80.3 12.1h1.0v1.0h-1.0zM28 83.8h1.4v1.4h-1.4zM86.5 88.2h1.6v1.6h-1.6zM44 84.4h1.4v1.4h-1.4zM11.6 11.7h1.6v1.6h-1.6zM46.2 61.4h1.4v1.4h-1.4zM30 32.9h1.6v1.6h-1.6zM90.8 59.7h1.6v1.6h-1.6zM38.4 72.5h1.4v1.4h-1.4zM12 71.5h1.6v1.6h-1.6zM18.8 27h1.2v1.2h-1.2zM58.6 22.9h1.0v1.0h-1.0zM93.7 21.2h1.4v1.4h-1.4zM17.5 17.9h1.2v1.2h-1.2zM4.8 39.6h1.4v1.4h-1.4zM51.2 65.9h1.2v1.2h-1.2zM5.6 74.8h1.2v1.2h-1.2zM83.4 33.1h1.4v1.4h-1.4zM14.6 13.2h1.0v1.0h-1.0zM90.2 50.1h1.4v1.4h-1.4zM74.5 65.7h1.2v1.2h-1.2zM69.5 35.3h1.2v1.2h-1.2zM74.1 63.9h1.6v1.6h-1.6zM23.6 86.6h1.4v1.4h-1.4zM2.7 12h1.0v1.0h-1.0zM9 29.6h1.2v1.2h-1.2zM50.2 24.5h1.0v1.0h-1.0zM92 40.4h1.0v1.0h-1.0zM1.7 13.9h1.4v1.4h-1.4zM75.6 0.5h1.4v1.4h-1.4zM43.8 37.2h1.4v1.4h-1.4zM63.2 83.6h1.2v1.2h-1.2zM38.4 65.4h1.4v1.4h-1.4zM36.6 35h1.2v1.2h-1.2zM39.7 87.3h1.2v1.2h-1.2zM43.1 49.4h1.6v1.6h-1.6zM42.3 15.8h1.2v1.2h-1.2z"/><path fill="#929292" d="M23.1 48.4h1.4v1.4h-1.4zM25.2 20.9h1.6v1.6h-1.6zM61.6 77.3h1.6v1.6h-1.6zM1.5 69.2h1.2v1.2h-1.2zM57.7 81.9h1.6v1.6h-1.6zM21 85.9h1.6v1.6h-1.6zM83 37.5h1.6v1.6h-1.6zM66.2 82.7h1.4v1.4h-1.4zM65.1 14.5h1.4v1.4h-1.4zM87.8 50.7h1.2v1.2h-1.2zM58.7 67.8h1.6v1.6h-1.6zM56.9 49h1.4v1.4h-1.4zM44.7 46.3h1.0v1.0h-1.0zM61.5 29.6h1.4v1.4h-1.4zM89 54.2h1.4v1.4h-1.4zM35.3 27.8h1.4v1.4h-1.4zM33 73.7h1.0v1.0h-1.0zM33.5 11.5h1.4v1.4h-1.4zM77 24.1h1.4v1.4h-1.4zM91.5 78.3h1.6v1.6h-1.6zM72.3 74.5h1.4v1.4h-1.4zM33.1 20.2h1.0v1.0h-1.0zM48.8 21.3h1.0v1.0h-1.0zM46.8 2.9h1.0v1.0h-1.0zM55 3.8h1.6v1.6h-1.6zM63.1 48.2h1.0v1.0h-1.0zM86 4.7h1.6v1.6h-1.6zM1.7 19.5h1.4v1.4h-1.4zM45 11h1.6v1.6h-1.6zM10.5 28.3h1.0v1.0h-1.0zM4.3 8.2h1.0v1.0h-1.0zM81.6 10.8h1.0v1.0h-1.0zM46.7 62h1.4v1.4h-1.4zM53.8 8.9h1.0v1.0h-1.0zM96.8 57.5h1.6v1.6h-1.6zM36.4 20.9h1.6v1.6h-1.6zM9.3 66.6h1.6v1.6h-1.6zM14.2 45.9h1.2v1.2h-1.2zM52.2 69.4h1.6v1.6h-1.6zM75.1 12.8h1.6v1.6h-1.6zM96.3 6.4h1.6v1.6h-1.6zM73.2 85.6h1.0v1.0h-1.0zM47.9 31.3h1.4v1.4h-1.4zM10.5 49.8h1.4v1.4h-1.4zM69.9 53.2h1.4v1.4h-1.4zM18.1 42.9h1.2v1.2h-1.2zM4.1 44.9h1.2v1.2h-1.2zM67.7 50.5h1.6v1.6h-1.6zM30.6 80.6h1.4v1.4h-1.4zM48.3 47.1h1.4v1.4h-1.4zM50.8 41h1.2v1.2h-1.2zM83.3 53.5h1.0v1.0h-1.0zM20.3 15.2h1.6v1.6h-1.6zM16.3 2.4h1.0v1.0h-1.0zM39.1 28.3h1.0v1.0h-1.0zM60.4 30.8h1.0v1.0h-1.0zM54.4 2.7h1.4v1.4h-1.4zM96.3 28.2h1.0v1.0h-1.0zM2.9 8.1h1.2v1.2h-1.2zM81.2 76.9h1.6v1.6h-1.6zM23 75.1h1.0v1.0h-1.0zM55.2 9.8h1.0v1.0h-1.0zM20.4 61.2h1.2v1.2h-1.2zM27.9 18.6h1.6v1.6h-1.6zM17.2 7h1.0v1.0h-1.0zM8.3 41.4h1.2v1.2h-1.2zM11.3 0.7h1.4v1.4h-1.4zM16 82.9h1.2v1.2h-1.2zM86.7 87.5h1.6v1.6h-1.6zM3.6 41.7h1.2v1.2h-1.2zM41.8 83.7h1.6v1.6h-1.6zM3.6 88.6h1.2v1.2h-1.2zM24 12.1h1.6v1.6h-1.6zM1.6 4h1.6v1.6h-1.6zM43.9 85.4h1.2v1.2h-1.2zM42.2 6.8h1.0v1.0h-1.0zM22.3 17.8h1.0v1.0h-1.0zM51 66.1h1.0v1.0h-1.0zM81.3 78.4h1.4v1.4h-1.4zM87.8 15.8h1.6v1.6h-1.6zM68.2 27.9h1.0v1.0h-1.0zM33.5 66.6h1.6v1.6h-1.6zM25.8 18h1.0v1.0h-1.0zM57.3 19.4h1.6v1.6h-1.6zM54.7 56.7h1.4v1.4h-1.4zM58.3 87.3h1.4v1.4h-1.4zM17.7 53.6h1.2v1.2h-1.2zM32.4 70.2h1.2v1.2h-1.2zM36.1 58h1.0v1.0h-1.0zM52.3 82h1.6v1.6h-1.6zM46.1 79.2h1.4v1.4h-1.4zM37.7 45.5h1.6v1.6h-1.6zM82.4 28.9h1.6v1.6h-1.6zM86.8 73.6h1.4v1.4h-1.4zM62.9 85.3h1.0v1.0h-1.0zM50.2 80.4h1.2v1.2h-1.2zM80.4 16h1.6v1.6h-1.6zM38.4 30.6h1.6v1.6h-1.6zM87.3 11.8h1.4v1.4h-1.4zM5.8 38.5h1.4v1.4h-1.4zM79.8 83.5h1.0v1.0h-1.0zM24.3 23.4h1.4v1.4h-1.4zM66.3 47.2h1.6v1.6h-1.6zM1.7 15.7h1.6v1.6h-1.6zM69.5 30.2h1.2v1.2h-1.2zM47.8 51.9h1.2v1.2h-1.2zM9.1 67.7h1.4v1.4h-1.4zM67.7 50.1h1.6v1.6h-1.6zM10.6 49.3h1.4v1.4h-1.4zM49 14.9h1.0v1.0h-1.0zM36 13.1h1.4v1.4h-1.4zM18.1 50.8h1.2v1.2h-1.2zM21.6 87.7h1.4v1.4h-1.4zM80.4 12.6h1.0v1.0h-1.0zM87.3 39.3h1.6v1.6h-1.6zM76.7 11.7h1.2v1.2h-1.2zM70.6 33.2h1.0v1.0h-1.0zM41.5 25.7h1.0v1.0h-1.0zM0.7 7.4h1.6v1.6h-1.6zM4.3 18.8h1.0v1.0h-1.0zM43.2 59.4h1.4v1.4h-1.4zM38.4 87.3h1.0v1.0h-1.0zM44 45.4h1.6v1.6h-1.6zM87.1 18.6h1.6v1.6h-1.6zM29.9 5.6h1.6v1.6h-1.6zM48.5 42.7h1.2v1.2h-1.2zM72.2 47.2h1.2v1.2h-1.2zM16 85.6h1.4v1.4h-1.4zM72.5 18.3h1.0v1.0h-1.0zM73.1 64.1h1.0v1.0h-1.0zM37.4 28.4h1.2v1.2h-1.2zM43.9 38.4h1.6v1.6h-1.6zM71.1 66.8h1.4v1.4h-1.4zM85.3 68.1h1.0v1.0h-1.0zM46.4 44.8h1.6v1.6h-1.6zM10.1 19.1h1.4v1.4h-1.4zM40.9 68.8h1.4v1.4h-1.4zM75.5 21.2h1.0v1.0h-1.0zM36.4 32.2h1.4v1.4h-1.4zM1 48.5h1.6v1.6h-1.6zM69.4 16.6h1.0v1.0h-1.0zM72.2 70.8h1.6v1.6h-1.6zM67.7 1.3h1.2v1.2h-1.2zM52 86.3h1.2v1.2h-1.2zM60.1 81.4h1.4v1.4h-1.4zM27.3 20.9h1.2v1.2h-1.2zM36.2 16.4h1.6v1.6h-1.6zM89.4 55.7h1.0v1.0h-1.0zM71.2 39.2h1.0v1.0h-1.0zM62.1 47.1h1.4v1.4h-1.4zM86.3 47.6h1.6v1.6h-1.6zM38.4 14.6h1.4v1.4h-1.4zM65.5 10.6h1.4v1.4h-1.4zM31.5 26.8h1.0v1.0h-1.0zM30.9 26.1h1.6v1.6h-1.6zM56.2 13.3h1.6v1.6h-1.6zM93.4 71h1.6v1.6h-1.6zM71.8 82.7h1.4v1.4h-1.4zM35.3 65.5h1.2v1.2h-1.2zM15.2 23.4h1.2v1.2h-1.2zM25.2 74.8h1.6v1.6h-1.6zM54.4 38.8h1.4v1.4h-1.4zM7.3 87.7h1.4v1.4h-1.4zM70.9 73.2h1.2v1.2h-1.2zM69.9 46.6h1.4v1.4h-1.4zM25.6 21.9h1.0v1.0h-1.0zM10.8 50.8h1.0v1.0h-1.0zM85.1 36.8h1.0v1.0h-1.0zM53 83.5h1.4v1.4h-1.4zM88.5 15.4h1.6v1.6h-1.6zM37.3 46.6h1.2v1.2h-1.2zM54.2 38.5h1.0v1.0h-1.0zM57.2 31h1.2v1.2h-1.2zM10.6 7.9h1.0v1.0h-1.0zM86.1 5.4h1.2v1.2h-1.2zM29.2 60h1.0v1.0h-1.0zM81.2 49.4h1.4v1.4h-1.4zM58.4 10.1h1.2v1.2h-1.2zM25.1 2.4h1.4v1.4h-1.4zM15.1 48.7h1.2v1.2h-1.2zM71.8 28.5h1.4v1.4h-1.4zM8 52h1.6v1.6h-1.6zM59.6 84.1h1.4v1.4h-1.4zM92.5 56.4h1.4v1.4h-1.4zM16.7 86.8h1.4v1.4h-1.4zM68.4 52.7h1.6v1.6h-1.6zM42.5 50h1.6v1.6h-1.6zM36.9 85.4h1.0v1.0h-1.0zM68.9 26.6h1.4v1.4h-1.4zM76.4 6.6h1.2v1.2h-1.2zM4.1 42.6h1.6v1.6h-1.6zM10.2 15.8h1.2v1.2h-1.2zM36.2 60.2h1.4v1.4h-1.4zM88.3 81.7h1.4v1.4h-1.4zM2.4 32.3h1.0v1.0h-1.0zM36.5 1.7h1.6v1.6h-1.6zM91.9 30.3h1.6v1.6h-1.6zM9.1 85.3h1.6v1.6h-1.6zM29.5 41.3h1.4v1.4h-1.4zM88.5 18h1.2v1.2h-1.2zM71.1 70.1h1.0v1.0h-1.0zM95 13.9h1.4v1.4h-1.4zM44.1 80.2h1.4v1.4h-1.4zM29.4 69.3h1.6v1.6h-1.6zM96.8 76.2h1.4v1.4h-1.4zM69.6 62.1h1.4v1.4h-1.4zM46.2 10.4h1.6v1.6h-1.6zM29.5 79.8h1.2v1.2h-1.2zM50.7 32.5h1.2v1.2h-1.2zM55.2 69.5h1.2v1.2h-1.2zM11.5 38h1.2v1.2h-1.2zM8.9 68.3h1.4v1.4h-1.4zM33.7 18.9h1.2v1.2h-1.2zM72.7 53.7h1.6v1.6h-1.6zM45.8 54.6h1.0v1.0h-1.0zM80.1 39.8h1.0v1.0h-1.0zM61.9 2h1.6v1.6h-1.6zM41.3 58.9h1.6v1.6h-1.6zM58.5 24.2h1.6v1.6h-1.6zM61.6 4.7h1.6v1.6h-1.6zM33.9 17.1h1.4v1.4h-1.4zM68.3 0.6h1.0v1.0h-1.0zM80 15.6h1.2v1.2h-1.2zM76.3 56.7h1.2v1.2h-1.2zM87.8 59.5h1.4v1.4h-1.4zM29.7 56.6h1.4v1.4h-1.4zM78.3 11.3h1.4v1.4h-1.4zM18.5 53.4h1.6v1.6h-1.6zM28.4 41.5h1.0v1.0h-1.0zM96.9 6h1.4v1.4h-1.4zM75.7 26.5h1.2v1.2h-1.2zM79.9 79.7h1.6v1.6h-1.6zM3.2 27.8h1.0v1.0h-1.0zM24.8 6.8h1.6v1.6h-1.6zM32.2 55.9h1.6v1.6h-1.6zM72.3 26.9h1.4v1.4h-1.4zM29.4 77.4h1.2v1.2h-1.2zM15 84.2h1.6v1.6h-1.6zM59 85.2h1.0v1.0h-1.0zM19.9 54.3h1.6v1.6h-1.6zM74.6 24.2h1.2v1.2h-1.2zM86.2 87.2h1.6v1.6h-1.6zM72.6 86.3h1.4v1.4h-1.4zM25.1 61.9h1.2v1.2h-1.2zM67.1 54.4h1.0v1.0h-1.0zM61.9 84.5h1.6v1.6h-1.6zM31.7 74.8h1.4v1.4h-1.4zM83.8 32.7h1.6v1.6h-1.6zM38 35.6h1.0v1.0h-1.0zM17.5 79.4h1.4v1.4h-1.4zM51.6 55.8h1.4v1.4h-1.4zM85.5 48.6h1.6v1.6h-1.6zM95.7 86.3h1.2v1.2h-1.2zM36.1 84.5h1.0v1.0h-1.0zM20.8 21.3h1.2v1.2h-1.2zM18.3 64.2h1.4v1.4h-1.4zM27.1 67.7h1.6v1.6h-1.6zM68.9 26.6h1.0v1.0h-1.0zM74.6 15.7h1.2v1.2h-1.2zM18.6 35.6h1.6v1.6h-1.6zM19.2 61.8h1.4v1.4h-1.4zM53 28.2h1.2v1.2h-1.2zM43.6 57.4h1.4v1.4h-1.4zM60.8 30.1h1.2v1.2h-1.2zM33.2 66.5h1.4v1.4h-1.4zM12.1 84.9h1.4v1.4h-1.4zM54.8 59h1.4v1.4h-1.4zM73.5 39.4h1.6v1.6h-1.6zM52.5 6.7h1.6v1.6h-1.6zM6.3 14.9h1.4v1.4h-1.4zM72.4 85.2h1.2v1.2h-1.2zM11.5 10.8h1.2v1.2h-1.2zM32.8 57.4h1.6v1.6h-1.6zM87.4 54.6h1.6v1.6h-1.6zM10.5 48.8h1.0v1.0h-1.0zM21.2 7.2h1.6v1.6h-1.6zM63.3 12.4h1.4v1.4h-1.4zM2.2 12.1h1.6v1.6h-1.6zM56.2 52.7h1.0v1.0h-1.0zM41.7 70.5h1.6v1.6h-1.6zM70.5 20.8h1.2v1.2h-1.2zM54.8 18h1.2v1.2h-1.2zM4.4 50.4h1.0v1.0h-1.0zM87.7 53h1.2v1.2h-1.2zM66.1 59.7h1.2v1.2h-1.2zM39 82h1.6v1.6h-1.6zM57.2 71.2h1.6v1.6h-1.6zM18.8 84.3h1.4v1.4h-1.4zM0.7 5.6h1.4v1.4h-1.4zM68.8 34h1.0v1.0h-1.0zM82.8 60.3h1.2v1.2h-1.2zM10.8 80.9h1.2v1.2h-1.2zM22.8 15.4h1.4v1.4h-1.4zM25.1 45.7h1.6v1.6h-1.6zM7 42.8h1.0v1.0h-1.0zM40.9 74.8h1.4v1.4h-1.4zM48.5 38.1h1.0v1.0h-1.0zM10.9 34.9h1.4v1.4h-1.4zM1.1 37.5h1.2v1.2h-1.2zM86.2 25.5h1.0v1.0h-1.0zM95.2 87.5h1.0v1.0h-1.0zM57.5 61.3h1.0v1.0h-1.0zM43.3 75.2h1.6v1.6h-1.6zM85.3 41.1h1.2v1.2h-1.2zM54 40.9h1.6v1.6h-1.6zM8.8 31.2h1.4v1.4h-1.4zM23.5 25.4h1.6v1.6h-1.6zM14.1 80.1h1.4v1.4h-1.4zM1.4 57.3h1.6v1.6h-1.6zM30.1 5.7h1.6v1.6h-1.6zM14.5 47.6h1.4v1.4h-1.4zM87.7 32.6h1.2v1.2h-1.2zM41.1 73.6h1.0v1.0h-1.0zM59.7 3.6h1.2v1.2h-1.2zM70.4 28.6h1.0v1.0h-1.0zM15.1 62h1.0v1.0h-1.0zM89.4 32.9h1.0v1.0h-1.0zM75.2 18.6h1.2v1.2h-1.2zM74.4 62.2h1.0v1.0h-1.0zM12.5 15.4h1.6v1.6h-1.6zM11.8 39.7h1.4v1.4h-1.4zM73.9 13.3h1.0v1.0h-1.0zM37.3 72h1.6v1.6h-1.6zM52.6 48.5h1.6v1.6h-1.6zM32.3 38.2h1.0v1.0h-1.0zM27 2.7h1.6v1.6h-1.6zM80.9 69.5h1.4v1.4h-1.4zM19.2 57.3h1.6v1.6h-1.6zM50.3 5.2h1.0v1.0h-1.0zM26.8 33h1.6v1.6h-1.6zM80.7 43.8h1.6v1.6h-1.6zM73.5 81.9h1.4v1.4h-1.4zM26.6 87.2h1.2v1.2h-1.2zM67.5 43.4h1.0v1.0h-1.0zM77.4 34.8h1.6v1.6h-1.6zM60.3 13.1h1.2v1.2h-1.2zM83.5 59.2h1.4v1.4h-1.4zM79.4 20h1.0v1.0h-1.0zM28.8 32.6h1.2v1.2h-1.2zM70.3 36.2h1.2v1.2h-1.2zM73.8 20.6h1.2v1.2h-1.2zM29.6 34.4h1.6v1.6h-1.6zM19.5 68h1.0v1.0h-1.0zM49.8 84.1h1.0v1.0h-1.0zM85.3 54.8h1.6v1.6h-1.6zM46.7 27.9h1.2v1.2h-1.2zM5.9 1.2h1.2v1.2h-1.2zM76.1 3.1h1.4v1.4h-1.4zM97 21.3h1.0v1.0h-1.0zM36.7 27.7h1.2v1.2h-1.2zM45.8 68h1.2v1.2h-1.2zM51 2.3h1.2v1.2h-1.2zM76.8 40.6h1.0v1.0h-1.0zM16 27.7h1.4v1.4h-1.4zM54.7 80.2h1.4v1.4h-1.4zM86.2 75.9h1.4v1.4h-1.4zM95.3 80.8h1.2v1.2h-1.2zM2.2 2.2h1.0v1.0h-1.0zM66.4 51.6h1.4v1.4h-1.4zM41.2 40.7h1.0v1.0h-1.0zM74.7 67.5h1.4v1.4h-1.4zM53.7 46.2h1.6v1.6h-1.6zM29.1 5.9h1.4v1.4h-1.4zM72.4 68.7h1.4v1.4h-1.4zM22.1 73.6h1.2v1.2h-1.2zM69.8 71.1h1.0v1.0h-1.0zM42.1 73.4h1.0v1.0h-1.0zM23.6 43h1.6v1.6h-1.6zM18.2 4.4h1.6v1.6h-1.6zM28.8 78.1h1.2v1.2h-1.2zM91 75.6h1.6v1.6h-1.6zM75 0.5h1.2v1.2h-1.2zM80.3 68.9h1.2v1.2h-1.2zM40.8 8.4h1.0v1.0h-1.0zM68 88.8h1.4v1.4h-1.4zM6 34h1.6v1.6h-1.6zM54.2 66.9h1.0v1.0h-1.0zM61.3 0.3h1.4v1.4h-1.4zM46.4 32.8h1.2v1.2h-1.2zM65.8 15.3h1.4v1.4h-1.4zM96 15.5h1.6v1.6h-1.6zM33.8 42.5h1.0v1.0h-1.0zM11.4 7.2h1.2v1.2h-1.2zM1.3 68.7h1.6v1.6h-1.6zM10.7 76.8h1.0v1.0h-1.0zM48 32.3h1.0v1.0h-1.0zM49.7 44.7h1.4v1.4h-1.4zM55 25.2h1.4v1.4h-1.4zM36.9 76.9h1.6v1.6h-1.6zM47.5 64.2h1.2v1.2h-1.2zM24.7 29.6h1.2v1.2h-1.2zM42.8 53.3h1.4v1.4h-1.4zM73.1 47.5h1.2v1.2h-1.2zM70.6 80.7h1.6v1.6h-1.6zM7.3 43.5h1.6v1.6h-1.6zM34.7 84.6h1.6v1.6h-1.6zM84.3 22.8h1.2v1.2h-1.2zM40.5 60.9h1.0v1.0h-1.0zM34.7 78.4h1.2v1.2h-1.2zM79.1 48.4h1.2v1.2h-1.2zM4.8 65h1.4v1.4h-1.4zM77.3 33.4h1.6v1.6h-1.6zM58.4 34.6h1.4v1.4h-1.4zM36.6 75.5h1.0v1.0h-1.0zM65.8 82.3h1.4v1.4h-1.4zM4.1 45h1.6v1.6h-1.6zM32.2 36.7h1.0v1.0h-1.0zM92 64.5h1.6v1.6h-1.6zM68.5 70.9h1.4v1.4h-1.4zM77.8 79.8h1.2v1.2h-1.2zM16.1 0.7h1.2v1.2h-1.2zM85.1 16.6h1.2v1.2h-1.2zM78.3 41.7h1.0v1.0h-1.0zM15.1 81.1h1.2v1.2h-1.2zM73.7 41.9h1.2v1.2h-1.2zM41.4 67h1.0v1.0h-1.0zM16.9 52.5h1.0v1.0h-1.0zM57.7 65.7h1.0v1.0h-1.0zM24 63.4h1.2v1.2h-1.2zM7.3 83.7h1.0v1.0h-1.0zM46.5 79.5h1.0v1.0h-1.0zM68.2 82.8h1.4v1.4h-1.4zM82.4 16.4h1.4v1.4h-1.4zM48.3 30.9h1.0v1.0h-1.0zM45.1 26.1h1.6v1.6h-1.6zM90.6 50.8h1.6v1.6h-1.6zM24.4 68.7h1.0v1.0h-1.0zM27.7 10.3h1.0v1.0h-1.0zM38.2 16.3h1.0v1.0h-1.0zM83.7 45.4h1.0v1.0h-1.0zM84.8 33.2h1.2v1.2h-1.2zM24.1 59h1.4v1.4h-1.4zM35 26.1h1.2v1.2h-1.2zM73.9 76.8h1.4v1.4h-1.4zM34.9 50.9h1.6v1.6h-1.6zM4.4 72.1h1.4v1.4h-1.4zM9.4 0.3h1.4v1.4h-1.4zM28.7 36.9h1.4v1.4h-1.4zM86.4 64.1h1.2v1.2h-1.2zM94.8 13.8h1.4v1.4h-1.4zM39.1 17.3h1.2v1.2h-1.2zM54 33.4h1.2v1.2h-1.2z"/></pattern><clipPath id="cStL"><path d="M130 121.5H217.5V388.6L178 394V160.3H167.4V153.8H130Z"/></clipPath><clipPath id="cFl1"><path d="M40 160.3H60.5V208.3H40Z"/></clipPath><clipPath id="cFl2"><path d="M103.3 160.3H130V153.8H167.4V208.3H103.3Z"/></clipPath><clipPath id="cPlL"><path d="M167.4 160.3H178V394L167.4 395.4Z"/></clipPath><clipPath id="cStR"><path d="M332 121.5H420V153.3H381.5V160.3H371V392.2L381 391.9L385 391.9L390 392L395 392.1L400 392.1L405 392.2L410 392.2L415 392.3L420 392.3L425 392.4L430 392.4L435 392.5L440 392.6L445 392.6L450 392.7L455 392.8L460 393L465 393.1L470 393.2L475 393.4L480 393.6L485 393.7L490 393.9L495 394.1L500 394.4L505 394.6L510 394.8L515 395.1L520 395.4L525 395.7L530 395.9L535 396.3L540 396.6L545 396.9L550 397.2L555 397.6L560 398L565 398.4L570 398.7L575 399.2L580 399.6L585 400L590 400.4L595 400.9L600 401.4L605 401.8L610 402.3L615 402.8L620 403.4L625 403.9L630 404.4L635 405L640 405.6L645 406.1L650 406.7L655 407.3L660 408L665 408.6L670 409.2L675 409.9L680 410.5L685 411.2L690 411.9L695 412.6L700 413.3L705 414.1L710 414.8L715 415.6L720 416.3L725 417.1L730 417.9L735 418.7L740 419.5L745 420.4L750 421.2L755 422L760 422.9L765 423.8L765 423.8L761 459.2L759 458.9L754 458L749 457.2L744 456.5L739 455.7L734 454.9L729 454.2L724 453.5L719 452.7L714 452L709 451.3L704 450.6L699 450L694 449.3L689 448.7L684 448L679 447.4L674 446.8L669 446.2L664 445.6L659 445L654 444.5L649 443.9L644 443.4L639 442.9L634 442.3L629 441.9L624 441.4L619 440.9L614 440.4L609 440L604 439.5L599 439.1L594 438.7L589 438.3L584 437.9L579 437.5L574 437.2L569 436.8L564 436.5L559 436.2L554 435.9L549 435.6L544 435.3L539 435L534 434.7L529 434.5L524 434.3L519 434L514 433.8L509 433.6L504 433.4L499 433.2L494 433.1L489 432.9L484 432.8L479 432.7L474 432.6L469 432.5L464 432.4L459 432.3L454 432.2L449 432.2L444 432.1L439 432.1L434 432.1L429 432.1L424 432.1L419 432.1L414 432.1L409 432.1L404 432.1L399 432.1L394 432.1L389 432.1L384 432.1L379 432.1L374 432.1L369 432.1L364 432.1L359 432.1L354 432.1L349 432.1L344 432.1L344 432.1Q332 432.1 332 420.1Z"/></clipPath><clipPath id="cVm"><path d="M344 159H371V392H344Z"/></clipPath><clipPath id="cFr1"><path d="M381.5 153.3H420V160.3H445V208.3H381.5Z"/></clipPath><clipPath id="cFr2"><path d="M489 160.3H509V208.3H489Z"/></clipPath><clipPath id="cPlR"><path d="M371 160.3H381.6L381.6 380.9L385 380.9L390 380.9L395 380.9L400 380.9L405 380.9L410 380.9L415 380.9L420 380.9L425 380.9L430 380.9L435 380.9L440 380.9L445 380.9L450 381L455 381L460 381.1L465 381.2L470 381.3L475 381.4L480 381.5L485 381.6L490 381.8L495 381.9L500 382.1L505 382.3L510 382.5L515 382.7L520 382.9L525 383.1L530 383.3L535 383.6L540 383.9L545 384.1L550 384.4L555 384.7L560 385L565 385.4L570 385.7L575 386.1L580 386.4L585 386.8L590 387.2L595 387.6L600 388L605 388.4L610 388.9L615 389.3L620 389.8L625 390.3L630 390.7L635 391.2L640 391.8L645 392.3L650 392.8L655 393.4L660 393.9L665 394.5L670 395.1L675 395.7L680 396.3L685 396.9L690 397.6L695 398.2L700 398.9L705 399.6L710 400.3L715 401L720 401.7L725 402.4L730 403.1L735 403.9L740 404.6L745 405.4L750 406.2L755 407L760 407.8L765 408.6L769.5 409.4L768 424.3L765 423.8L760 422.9L755 422L750 421.2L745 420.4L740 419.5L735 418.7L730 417.9L725 417.1L720 416.3L715 415.6L710 414.8L705 414.1L700 413.3L695 412.6L690 411.9L685 411.2L680 410.5L675 409.9L670 409.2L665 408.6L660 408L655 407.3L650 406.7L645 406.1L640 405.6L635 405L630 404.4L625 403.9L620 403.4L615 402.8L610 402.3L605 401.8L600 401.4L595 400.9L590 400.4L585 400L580 399.6L575 399.2L570 398.7L565 398.4L560 398L555 397.6L550 397.2L545 396.9L540 396.6L535 396.3L530 395.9L525 395.7L520 395.4L515 395.1L510 394.8L505 394.6L500 394.4L495 394.1L490 393.9L485 393.7L480 393.6L475 393.4L470 393.2L465 393.1L460 393L455 392.8L450 392.7L445 392.6L440 392.6L435 392.5L430 392.4L425 392.4L420 392.3L415 392.3L410 392.2L405 392.2L400 392.1L395 392.1L390 392L385 391.9L381.6 391.9L371 391.9Z"/></clipPath><clipPath id="cPlV"><path d="M371 160.3H381.6V382H371Z"/></clipPath></defs><path d="M130 121.5H217.5V388.6L178 394V160.3H167.4V153.8H130Z" fill="url(#stip)"/><path d="M130 121.5H217.5V388.6L178 394V160.3H167.4V153.8H130Z" fill="none" stroke="#404040" stroke-width="1.3"/><path clip-path="url(#cFl1)" d="M-22 211L31 158M-8.4 211L44.6 158M5.2 211L58.2 158M18.8 211L71.8 158M32.4 211L85.4 158M46 211L99 158" stroke="#404040" stroke-width="1.25" fill="none"/><path clip-path="url(#cFl2)" d="M45 211L105 151M58.8 211L118.8 151M72.6 211L132.6 151M86.4 211L146.4 151M100.2 211L160.2 151M114 211L174 151M127.8 211L187.8 151M141.6 211L201.6 151M155.4 211L215.4 151" stroke="#404040" stroke-width="1.25" fill="none"/><path d="M40 160.3H130V153.8H167.4V208.3H40Z" fill="none" stroke="#404040" stroke-width="1.3"/><path d="M60.5 160.3V208.3M103.3 160.3V208.3" stroke="#404040" stroke-width="1.3"/><path clip-path="url(#cPlL)" d="M-76.6 398L163.4 158M-70.4 398L169.6 158M-64.2 398L175.8 158M-58 398L182 158M-51.8 398L188.2 158M-45.6 398L194.4 158M-39.4 398L200.6 158M-33.2 398L206.8 158M-27 398L213 158M-20.8 398L219.2 158M-14.6 398L225.4 158M-8.4 398L231.6 158M-2.2 398L237.8 158M4 398L244 158M10.2 398L250.2 158M16.4 398L256.4 158M22.6 398L262.6 158M28.8 398L268.8 158M35 398L275 158M41.2 398L281.2 158M47.4 398L287.4 158M53.6 398L293.6 158M59.8 398L299.8 158M66 398L306 158M72.2 398L312.2 158M78.4 398L318.4 158M84.6 398L324.6 158M90.8 398L330.8 158M97 398L337 158M103.2 398L343.2 158M109.4 398L349.4 158M115.6 398L355.6 158M121.8 398L361.8 158M128 398L368 158M134.2 398L374.2 158M140.4 398L380.4 158M146.6 398L386.6 158M152.8 398L392.8 158M159 398L399 158M165.2 398L405.2 158M171.4 398L411.4 158" stroke="#404040" stroke-width="1.25" fill="none"/><path d="M167.4 160.3H178V394L167.4 395.4Z" fill="none" stroke="#404040" stroke-width="1.3"/><path d="M44 410.3L167.4 395.4" stroke="#404040" stroke-width="1.3"/><path d="M332 121.5H420V153.3H381.5V160.3H371V392.2L381 391.9L385 391.9L390 392L395 392.1L400 392.1L405 392.2L410 392.2L415 392.3L420 392.3L425 392.4L430 392.4L435 392.5L440 392.6L445 392.6L450 392.7L455 392.8L460 393L465 393.1L470 393.2L475 393.4L480 393.6L485 393.7L490 393.9L495 394.1L500 394.4L505 394.6L510 394.8L515 395.1L520 395.4L525 395.7L530 395.9L535 396.3L540 396.6L545 396.9L550 397.2L555 397.6L560 398L565 398.4L570 398.7L575 399.2L580 399.6L585 400L590 400.4L595 400.9L600 401.4L605 401.8L610 402.3L615 402.8L620 403.4L625 403.9L630 404.4L635 405L640 405.6L645 406.1L650 406.7L655 407.3L660 408L665 408.6L670 409.2L675 409.9L680 410.5L685 411.2L690 411.9L695 412.6L700 413.3L705 414.1L710 414.8L715 415.6L720 416.3L725 417.1L730 417.9L735 418.7L740 419.5L745 420.4L750 421.2L755 422L760 422.9L765 423.8L765 423.8L761 459.2L759 458.9L754 458L749 457.2L744 456.5L739 455.7L734 454.9L729 454.2L724 453.5L719 452.7L714 452L709 451.3L704 450.6L699 450L694 449.3L689 448.7L684 448L679 447.4L674 446.8L669 446.2L664 445.6L659 445L654 444.5L649 443.9L644 443.4L639 442.9L634 442.3L629 441.9L624 441.4L619 440.9L614 440.4L609 440L604 439.5L599 439.1L594 438.7L589 438.3L584 437.9L579 437.5L574 437.2L569 436.8L564 436.5L559 436.2L554 435.9L549 435.6L544 435.3L539 435L534 434.7L529 434.5L524 434.3L519 434L514 433.8L509 433.6L504 433.4L499 433.2L494 433.1L489 432.9L484 432.8L479 432.7L474 432.6L469 432.5L464 432.4L459 432.3L454 432.2L449 432.2L444 432.1L439 432.1L434 432.1L429 432.1L424 432.1L419 432.1L414 432.1L409 432.1L404 432.1L399 432.1L394 432.1L389 432.1L384 432.1L379 432.1L374 432.1L369 432.1L364 432.1L359 432.1L354 432.1L349 432.1L344 432.1L344 432.1Q332 432.1 332 420.1Z" fill="url(#stip)"/><g clip-path="url(#cVm)"><path d="M345.6 161L347.8 180.5L350.1 161.2L352.4 181.5L354.5 161.4L356.6 180.4L358.6 160.9L360.5 180.8L362.7 160.3L364.7 181.2L366.9 161.2L368.9 180.5L370.8 161M346.4 160.3L349.9 181.2L353.1 161.5L356.6 181.2L360.2 160.9L363.6 181.3L367.2 161.1L370.8 180.4M345.6 184.4L347.6 205.8L349.5 184.4L351.6 206L353.8 184.4L355.8 205L357.9 184.4L360 205.2L361.9 185.2L363.8 205.1L366.1 184L368.3 205.6L370.4 184M346.4 184.2L350 205.8L353.5 185.1L357.1 205.6L360.3 184.6L363.7 205.9L367.2 185L370.7 206M345.6 208.6L347.6 229.8L349.9 208.9L352.2 229.8L354.2 208.9L356.2 230.4L358.1 209.3L360.4 230.3L362.3 209.7L364.5 230L366.4 209.2L368.7 230L370.8 208.6M346.4 208.5L349.7 229.5L352.8 209.4L356.3 229.7L359.8 208.6L363.1 230.3L366.6 208.9L369.9 229.3M345.6 234.2L347.7 254.9L349.9 233.6L351.9 255L353.8 233.5L356.1 254.3L358.3 233.6L360.3 255.4L362.3 233.9L364.6 255.1L366.8 233.9L369 254.7L371.2 233.4M346.4 233.3L349.7 254.6L353.1 233.4L356.7 254.7L360.1 233L363.4 255.2L366.8 233.6L370.3 254.7M345.6 258.4L347.8 282.1L350 258.4L352.2 282L354.4 259.2L356.7 282.4L358.8 258.2L361.1 281.9L363.2 258.8L365.3 282.1L367.3 258.9L369.4 282.2M346.4 258.7L349.9 282.2L353.3 258L356.4 282.5L359.8 258.3L363.2 282.2L366.2 258.6L369.3 282.9M345.6 285.9L347.6 310.3L349.5 286.1L351.5 309.8L353.7 285.8L355.9 310.5L358 285.8L360.1 310.4L362.3 285.9L364.2 309.8L366.1 286.2L368.2 309.8L370.4 286.5M346.4 286.5L349.8 310.1L352.9 286.2L356.2 309.4L359.8 286.2L363 309.4L366 285.6L369.3 309.8M345.6 313.8L347.9 337.5L349.9 313.3L351.9 336.8L354 314.2L356.3 337.3L358.3 314.2L360.4 337.5L362.4 314.2L364.5 337.7L366.6 313.1L368.7 337.5L370.7 313.9M346.4 313L349.7 337.7L353.3 313.9L356.4 337.7L359.5 314.2L362.7 337.3L366 313.8L369.3 337.1M345.6 341.4L347.6 363.4L349.6 340.9L351.8 363.4L353.8 341.4L355.9 364L357.9 341L360.2 362.9L362.3 340.5L364.5 363.5L366.7 341.3L368.8 363.4L371.1 341M346.4 341.5L349.5 363.6L353 340.6L356.5 363.2L359.8 340.8L363.3 362.9L366.3 341.1L369.7 363.4M345.6 366.7L347.7 388.5L349.7 366.8L351.9 388.5L354.1 366.5L356.3 388.3L358.6 367.3L360.5 388.5L362.5 367.3L364.7 388.6L366.7 366.9L369 389.3L371.1 367M346.4 367.2L349.4 389.4L352.6 366.6L355.6 388.8L359.1 367.6L362.1 389L365.3 367.2L368.6 388.4" stroke="#444" stroke-width="0.85" fill="none"/></g><g clip-path="url(#cStR)"><path d="M400 394.9L426 422.1L452 395L478 423.9L504 396.2L530 427.2L556 398.8L582 431.7L608 402.7L634 437.7L660 407.9L686 444.9L712 414.5L738 453.5L764 422.5" stroke="#6a6a6a" stroke-width="0.9" fill="none"/><path d="M347.7 394.5L386.6 395.4M348 396.8L387.3 396.5M348.8 399.1L392.6 398.7M345.5 401.2L393.1 401.8M350.9 403.2L397.1 403.6M345.9 405.6L372.4 405.8M346.1 407.5L378.3 407M347.6 409.8L393.9 410M348 412.2L389.2 412.4M351 414.3L397.9 415.1M346.9 416.8L378 416.7M349.6 418.7L382.4 419.5M387 393.9L445.9 398.3M390.7 415.5L421.2 420.7M388.2 411.1L419.1 414.7M397.9 415.1L430 418.4M384 396.1L439.1 399M391.7 406.2L426.2 411.9M395.7 396.8L427.6 400.9M388.2 398.6L449.2 404.7M432.4 403.4L482.2 406.7M419.6 417L456.4 423.3M421.3 401.9L451.8 404.6M420.2 407.7L468.6 412.1M434.5 404.8L479 410.4M419 414.2L452.2 421.2M420.3 413.1L454.8 419.2M419.3 415.9L479.6 423.2M465.5 397.9L502.2 405M463.7 404.6L522.5 411.2M473.9 407.8L535.1 412.9M468.3 406.7L517.3 410.8M473.6 400.5L527 404.9M460.3 405L489.8 409.3M474.7 408.1L505.9 411.9M461.9 405.9L514.8 412.4M467.1 417.8L526.5 424.5M461.5 403.7L490.6 409.8M456.6 396.9L495.2 400.7M512.1 415.2L565.2 424.2M512.4 416.6L552.4 424.7M511.6 419.2L553.7 428M505.6 418.1L554.8 424.9M506.3 411.2L537 418.4M511.7 421.5L564.5 428.7M505.7 414.9L548.7 423.9M509.1 399L538.1 405.9M498.7 408.4L550.5 415.8M512.5 412.2L549.2 416.3M507.7 404.3L542.6 409.1M546.7 405.5L583.2 414M553.7 420.4L588.5 426.4M557 405.6L592.2 411.2M556.5 408.9L585.9 413.7M555.1 425L586.9 432.3M555.2 423.6L596.2 431.9M552.9 416.9L609.6 427.1M555.2 408.1L592.6 416.6M544.2 416.6L584.3 425.4M551.4 414.1L593.2 420.5M543.9 418.9L598.4 429.7M597.1 420.3L652.6 433.9M588 421L632.2 428.5M593.5 403.5L645.7 411.9M590.9 410.3L642.6 420.6M599.1 420.1L640.5 431.2M585.8 426.8L645.5 439M593.1 406.6L642.3 419.2M595.4 413.4L653.3 426.2M630.4 434.3L687.8 448.4M630.9 432.8L667.1 441.7M634.6 410L695.8 425.5M642.7 415.7L671.3 424.5M635.2 408.7L677.6 417.6M632.7 432.8L690.2 444.6M639 409L690.4 423.2M648.4 422L707 435M637.2 426.6L695.1 439.5M643.5 427.6L686.5 438.6M639.6 431.1L673.2 440.6M690.1 425.5L748.7 437.9M692.5 439.3L738.3 452.1M683.9 419.5L729 432.3M692.5 415.7L738.1 427.3M684.4 436.8L729.1 450M683.9 415.7L726 430.2M678.5 439.6L722.6 448.9M689.5 426.9L748.1 441M677 422L726 437.2M688.7 418.1L717.5 425.9M722.4 429.9L753.9 442.4M720.2 422.8L756.7 432.4M718.7 434.6L759.5 446.3M713.2 433.8L748.1 445.9M720.6 438L777.5 453.8M714.6 443.6L767.8 460M716.3 445.2L755 460M729.9 427L788.1 440.1M724.5 426.8L761.3 435.9M718.4 443.4L773.2 455.6M754.1 442.2L810 457.2M759.7 447.2L799.4 463.7M763 451.6L807.4 462.4M759.3 448.8L818 465.4M749.3 429.8L783.1 439.3M760.4 434.5L808.2 446.5M748.5 444.6L779.8 455.3M754.1 437.8L789.2 449.1" stroke="#282828" stroke-width="1.2" fill="none"/></g><path d="M332 121.5H420V153.3H381.5V160.3H371V392.2L381 391.9L385 391.9L390 392L395 392.1L400 392.1L405 392.2L410 392.2L415 392.3L420 392.3L425 392.4L430 392.4L435 392.5L440 392.6L445 392.6L450 392.7L455 392.8L460 393L465 393.1L470 393.2L475 393.4L480 393.6L485 393.7L490 393.9L495 394.1L500 394.4L505 394.6L510 394.8L515 395.1L520 395.4L525 395.7L530 395.9L535 396.3L540 396.6L545 396.9L550 397.2L555 397.6L560 398L565 398.4L570 398.7L575 399.2L580 399.6L585 400L590 400.4L595 400.9L600 401.4L605 401.8L610 402.3L615 402.8L620 403.4L625 403.9L630 404.4L635 405L640 405.6L645 406.1L650 406.7L655 407.3L660 408L665 408.6L670 409.2L675 409.9L680 410.5L685 411.2L690 411.9L695 412.6L700 413.3L705 414.1L710 414.8L715 415.6L720 416.3L725 417.1L730 417.9L735 418.7L740 419.5L745 420.4L750 421.2L755 422L760 422.9L765 423.8L765 423.8L761 459.2L759 458.9L754 458L749 457.2L744 456.5L739 455.7L734 454.9L729 454.2L724 453.5L719 452.7L714 452L709 451.3L704 450.6L699 450L694 449.3L689 448.7L684 448L679 447.4L674 446.8L669 446.2L664 445.6L659 445L654 444.5L649 443.9L644 443.4L639 442.9L634 442.3L629 441.9L624 441.4L619 440.9L614 440.4L609 440L604 439.5L599 439.1L594 438.7L589 438.3L584 437.9L579 437.5L574 437.2L569 436.8L564 436.5L559 436.2L554 435.9L549 435.6L544 435.3L539 435L534 434.7L529 434.5L524 434.3L519 434L514 433.8L509 433.6L504 433.4L499 433.2L494 433.1L489 432.9L484 432.8L479 432.7L474 432.6L469 432.5L464 432.4L459 432.3L454 432.2L449 432.2L444 432.1L439 432.1L434 432.1L429 432.1L424 432.1L419 432.1L414 432.1L409 432.1L404 432.1L399 432.1L394 432.1L389 432.1L384 432.1L379 432.1L374 432.1L369 432.1L364 432.1L359 432.1L354 432.1L349 432.1L344 432.1L344 432.1Q332 432.1 332 420.1Z" fill="none" stroke="#404040" stroke-width="1.3"/><path d="M381.5 153.3H420V160.3H509V208.3H381.5Z" fill="#fff"/><path clip-path="url(#cFr1)" d="M320.1 211L381.1 150M333.6 211L394.6 150M347.1 211L408.1 150M360.6 211L421.6 150M374.1 211L435.1 150M387.6 211L448.6 150M401.1 211L462.1 150M414.6 211L475.6 150M428.1 211L489.1 150M441.6 211L502.6 150" stroke="#404040" stroke-width="1.25" fill="none"/><path clip-path="url(#cFr2)" d="M428.1 211L482.1 157M441.6 211L495.6 157M455.1 211L509.1 157M468.6 211L522.6 157M482.1 211L536.1 157M495.6 211L549.6 157" stroke="#404040" stroke-width="1.25" fill="none"/><path d="M381.5 153.3H420V160.3H509V208.3H381.5Z" fill="none" stroke="#404040" stroke-width="1.3"/><path d="M445 160.3V208.3M489 160.3V208.3" stroke="#404040" stroke-width="1.3"/><path d="M371 160.3H381.6L381.6 380.9L385 380.9L390 380.9L395 380.9L400 380.9L405 380.9L410 380.9L415 380.9L420 380.9L425 380.9L430 380.9L435 380.9L440 380.9L445 380.9L450 381L455 381L460 381.1L465 381.2L470 381.3L475 381.4L480 381.5L485 381.6L490 381.8L495 381.9L500 382.1L505 382.3L510 382.5L515 382.7L520 382.9L525 383.1L530 383.3L535 383.6L540 383.9L545 384.1L550 384.4L555 384.7L560 385L565 385.4L570 385.7L575 386.1L580 386.4L585 386.8L590 387.2L595 387.6L600 388L605 388.4L610 388.9L615 389.3L620 389.8L625 390.3L630 390.7L635 391.2L640 391.8L645 392.3L650 392.8L655 393.4L660 393.9L665 394.5L670 395.1L675 395.7L680 396.3L685 396.9L690 397.6L695 398.2L700 398.9L705 399.6L710 400.3L715 401L720 401.7L725 402.4L730 403.1L735 403.9L740 404.6L745 405.4L750 406.2L755 407L760 407.8L765 408.6L769.5 409.4L768 424.3L765 423.8L760 422.9L755 422L750 421.2L745 420.4L740 419.5L735 418.7L730 417.9L725 417.1L720 416.3L715 415.6L710 414.8L705 414.1L700 413.3L695 412.6L690 411.9L685 411.2L680 410.5L675 409.9L670 409.2L665 408.6L660 408L655 407.3L650 406.7L645 406.1L640 405.6L635 405L630 404.4L625 403.9L620 403.4L615 402.8L610 402.3L605 401.8L600 401.4L595 400.9L590 400.4L585 400L580 399.6L575 399.2L570 398.7L565 398.4L560 398L555 397.6L550 397.2L545 396.9L540 396.6L535 396.3L530 395.9L525 395.7L520 395.4L515 395.1L510 394.8L505 394.6L500 394.4L495 394.1L490 393.9L485 393.7L480 393.6L475 393.4L470 393.2L465 393.1L460 393L455 392.8L450 392.7L445 392.6L440 392.6L435 392.5L430 392.4L425 392.4L420 392.3L415 392.3L410 392.2L405 392.2L400 392.1L395 392.1L390 392L385 391.9L381.6 391.9L371 391.9Z" fill="#fff"/><path clip-path="url(#cPlV)" d="M130.4 395L368.4 157M137.7 395L375.7 157M145 395L383 157M152.3 395L390.3 157M159.6 395L397.6 157M166.9 395L404.9 157M174.2 395L412.2 157M181.5 395L419.5 157M188.8 395L426.8 157M196.1 395L434.1 157M203.4 395L441.4 157M210.7 395L448.7 157M218 395L456 157M225.3 395L463.3 157M232.6 395L470.6 157M239.9 395L477.9 157M247.2 395L485.2 157M254.5 395L492.5 157M261.8 395L499.8 157M269.1 395L507.1 157M276.4 395L514.4 157M283.7 395L521.7 157M291 395L529 157M298.3 395L536.3 157M305.6 395L543.6 157M312.9 395L550.9 157M320.2 395L558.2 157M327.5 395L565.5 157M334.8 395L572.8 157M342.1 395L580.1 157M349.4 395L587.4 157M356.7 395L594.7 157M364 395L602 157M371.3 395L609.3 157M378.6 395L616.6 157" stroke="#404040" stroke-width="1.25" fill="none"/><path clip-path="url(#cPlR)" d="M373 386.4L378.5 380.9M371.4 391.9L376.9 386.4M379.3 386.4L384.8 380.9M377.7 391.9L383.2 386.4M385.6 386.4L391.1 380.9M383.9 391.9L389.5 386.4M391.9 386.5L397.5 380.9M390.2 392L395.8 386.5M398.2 386.5L403.8 380.9M396.5 392.1L402.1 386.5M404.5 386.5L410.1 380.9M402.8 392.2L408.4 386.5M410.8 386.6L416.5 380.9M409.1 392.2L414.8 386.6M417.1 386.6L422.8 380.9M415.4 392.3L421.1 386.6M423.4 386.6L429.1 380.9M421.7 392.4L427.4 386.6M429.7 386.7L435.5 380.9M428 392.4L433.7 386.7M436 386.7L441.8 380.9M434.3 392.5L440.1 386.7M442.3 386.8L448.1 381M440.6 392.6L446.4 386.8M448.6 386.8L454.5 381M446.8 392.7L452.7 386.9M454.9 386.9L460.8 381.1M453.1 392.8L459 387M461.2 387.1L467.1 381.2M459.4 393L465.4 387.1M467.5 387.2L473.5 381.3M465.7 393.2L471.7 387.3M473.8 387.4L479.8 381.5M472 393.4L478 387.5M480.1 387.5L486.1 381.6M478.3 393.6L484.3 387.7M486.4 387.7L492.5 381.8M484.6 393.8L490.6 387.9M492.7 387.9L498.8 382M490.9 394.1L497 388.1M499 388.2L505.1 382.3M497.2 394.3L503.3 388.4M505.3 388.4L511.5 382.5M503.4 394.6L509.6 388.7M511.6 388.7L517.8 382.8M509.7 394.9L515.9 389M517.9 389L524.1 383M516 395.3L522.3 389.3M524.2 389.3L530.5 383.4M522.3 395.6L528.6 389.6M530.5 389.7L536.8 383.7M528.6 396L534.9 390M536.8 390L543.1 384M534.9 396.4L541.2 390.4M543.1 390.4L549.5 384.4M541.2 396.8L547.6 390.8M549.4 390.8L555.8 384.8M547.5 397.2L553.9 391.2M555.7 391.2L562.1 385.2M553.8 397.7L560.2 391.6M562 391.6L568.5 385.6M560.1 398.1L566.5 392.1M567.8 392.1L574.3 386M565.8 398.6L572.4 392.5M573.6 392.5L580.1 386.4M571.6 399L578.2 393M579.4 392.9L586 386.9M577.4 399.5L584 393.4M585.2 393.4L591.8 387.3M583.2 400L589.8 393.9M591 393.9L597.6 387.8M589 400.5L595.6 394.4M596.8 394.4L603.5 388.3M594.8 401.1L601.5 395M602.6 394.9L609.3 388.8M600.6 401.6L607.3 395.5M608.4 395.5L615.1 389.3M606.4 402.2L613.1 396M614.2 396L621 389.9M612.2 402.8L618.9 396.6M620 396.6L626.8 390.4M618 403.4L624.8 397.2M625.8 397.2L632.6 391M623.8 404L630.6 397.8M631.6 397.8L638.5 391.6M629.5 404.6L636.4 398.4M637.4 398.4L644.3 392.2M635.3 405.3L642.2 399.1M643.2 399L650.1 392.8M641.1 405.9L648 399.7M649 399.7L655.9 393.5M646.9 406.6L653.9 400.4M654.8 400.3L661.8 394.1M652.7 407.3L659.7 401.1M660.6 401L667.6 394.8M658.5 408L665.5 401.8M666.4 401.7L673.4 395.5M664.3 408.8L671.3 402.5M672.2 402.4L679.3 396.2M670.1 409.5L677.2 403.3M678 403.2L685.1 396.9M675.9 410.3L683 404M683.8 403.9L690.9 397.7M681.7 411.1L688.8 404.8M689.6 404.7L696.8 398.5M687.5 411.9L694.6 405.6M695.4 405.5L702.6 399.2M693.2 412.7L700.4 406.4M701.2 406.3L708.4 400M699 413.5L706.3 407.3M707 407.1L714.3 400.8M704.8 414.4L712.1 408.1M712.8 407.9L720.1 401.7M710.6 415.2L717.9 409M718.6 408.8L725.9 402.5M716.4 416.1L723.7 409.8M724.4 409.7L731.8 403.4M722.2 417L729.5 410.7M730.2 410.5L737.6 404.3M728 417.9L735.4 411.6M736 411.5L743.4 405.2M733.8 418.9L741.2 412.6M741.8 412.4L749.2 406.1M739.6 419.8L747 413.5M747.6 413.3L755.1 407M745.4 420.8L752.8 414.5M753.4 414.3L760.9 408M751.1 421.8L758.7 415.5M759.2 415.2L766.7 408.9M756.9 422.8L764.5 416.5M765 416.2L772.6 409.9M762.7 423.8L770.3 417.5M770.8 417.2L778.4 410.9M768.5 424.8L776.1 418.5" stroke="#2e2e2e" stroke-width="1.9" fill="none"/><path d="M381.6 386.4L385 386.4L390 386.4L395 386.5L400 386.5L405 386.5L410 386.6L415 386.6L420 386.6L425 386.6L430 386.7L435 386.7L440 386.7L445 386.8L450 386.9L455 386.9L460 387L465 387.1L470 387.3L475 387.4L480 387.5L485 387.7L490 387.9L495 388L500 388.2L505 388.4L510 388.6L515 388.9L520 389.1L525 389.4L530 389.6L535 389.9L540 390.2L545 390.5L550 390.8L555 391.2L560 391.5L565 391.9L570 392.2L575 392.6L580 393L585 393.4L590 393.8L595 394.2L600 394.7L605 395.1L610 395.6L615 396.1L620 396.6L625 397.1L630 397.6L635 398.1L640 398.7L645 399.2L650 399.8L655 400.4L660 400.9L665 401.6L670 402.2L675 402.8L680 403.4L685 404.1L690 404.8L695 405.4L700 406.1L705 406.8L710 407.5L715 408.3L720 409L725 409.8L730 410.5L735 411.3L740 412.1L745 412.9L750 413.7L755 414.5L760 415.4L765 416.2L769.5 417" stroke="#444" stroke-width="0.9" fill="none"/><path d="M371 160.3H381.6L381.6 380.9L385 380.9L390 380.9L395 380.9L400 380.9L405 380.9L410 380.9L415 380.9L420 380.9L425 380.9L430 380.9L435 380.9L440 380.9L445 380.9L450 381L455 381L460 381.1L465 381.2L470 381.3L475 381.4L480 381.5L485 381.6L490 381.8L495 381.9L500 382.1L505 382.3L510 382.5L515 382.7L520 382.9L525 383.1L530 383.3L535 383.6L540 383.9L545 384.1L550 384.4L555 384.7L560 385L565 385.4L570 385.7L575 386.1L580 386.4L585 386.8L590 387.2L595 387.6L600 388L605 388.4L610 388.9L615 389.3L620 389.8L625 390.3L630 390.7L635 391.2L640 391.8L645 392.3L650 392.8L655 393.4L660 393.9L665 394.5L670 395.1L675 395.7L680 396.3L685 396.9L690 397.6L695 398.2L700 398.9L705 399.6L710 400.3L715 401L720 401.7L725 402.4L730 403.1L735 403.9L740 404.6L745 405.4L750 406.2L755 407L760 407.8L765 408.6L769.5 409.4L768 424.3L765 423.8L760 422.9L755 422L750 421.2L745 420.4L740 419.5L735 418.7L730 417.9L725 417.1L720 416.3L715 415.6L710 414.8L705 414.1L700 413.3L695 412.6L690 411.9L685 411.2L680 410.5L675 409.9L670 409.2L665 408.6L660 408L655 407.3L650 406.7L645 406.1L640 405.6L635 405L630 404.4L625 403.9L620 403.4L615 402.8L610 402.3L605 401.8L600 401.4L595 400.9L590 400.4L585 400L580 399.6L575 399.2L570 398.7L565 398.4L560 398L555 397.6L550 397.2L545 396.9L540 396.6L535 396.3L530 395.9L525 395.7L520 395.4L515 395.1L510 394.8L505 394.6L500 394.4L495 394.1L490 393.9L485 393.7L480 393.6L475 393.4L470 393.2L465 393.1L460 393L455 392.8L450 392.7L445 392.6L440 392.6L435 392.5L430 392.4L425 392.4L420 392.3L415 392.3L410 392.2L405 392.2L400 392.1L395 392.1L390 392L385 391.9L381.6 391.9L371 391.9Z" fill="none" stroke="#404040" stroke-width="1.3"/><circle cx="348.7" cy="399.5" r="50.3" fill="none" stroke="#404040" stroke-width="1.2"/><path d="M347.5 449.8L305.6 480.6L353.4 493.6" fill="none" stroke="#404040" stroke-width="1.2"/><circle cx="398" cy="137.8" r="4.8" fill="#fff" stroke="#404040" stroke-width="1.1"/><path d="M400 134L417.6 95.2H506.9" fill="none" stroke="#404040" stroke-width="1.2"/><circle cx="365.6" cy="276" r="4" fill="none" stroke="#404040" stroke-width="1.1"/><path d="M367.5 272L384.8 234H502.3" fill="none" stroke="#404040" stroke-width="1.2"/><circle cx="381.6" cy="334.7" r="4" fill="none" stroke="#404040" stroke-width="1.1"/><path d="M383.4 331L401.6 291.5H502.3" fill="none" stroke="#404040" stroke-width="1.2"/></svg>
<div class="title">衬塑效果示意图</div>
<div class="lab" style="top:73px;letter-spacing:1px">塑料层</div>
<div class="lab" style="top:208px">钢网层</div>
<div class="lab" style="top:267px">钢板层</div>
<div class="note">整个罐子内部整体被塑料包裹，<br>最难处理的法兰与罐体连接处也与罐体连为一体<br>无任何焊接。</div>
</body></html>
